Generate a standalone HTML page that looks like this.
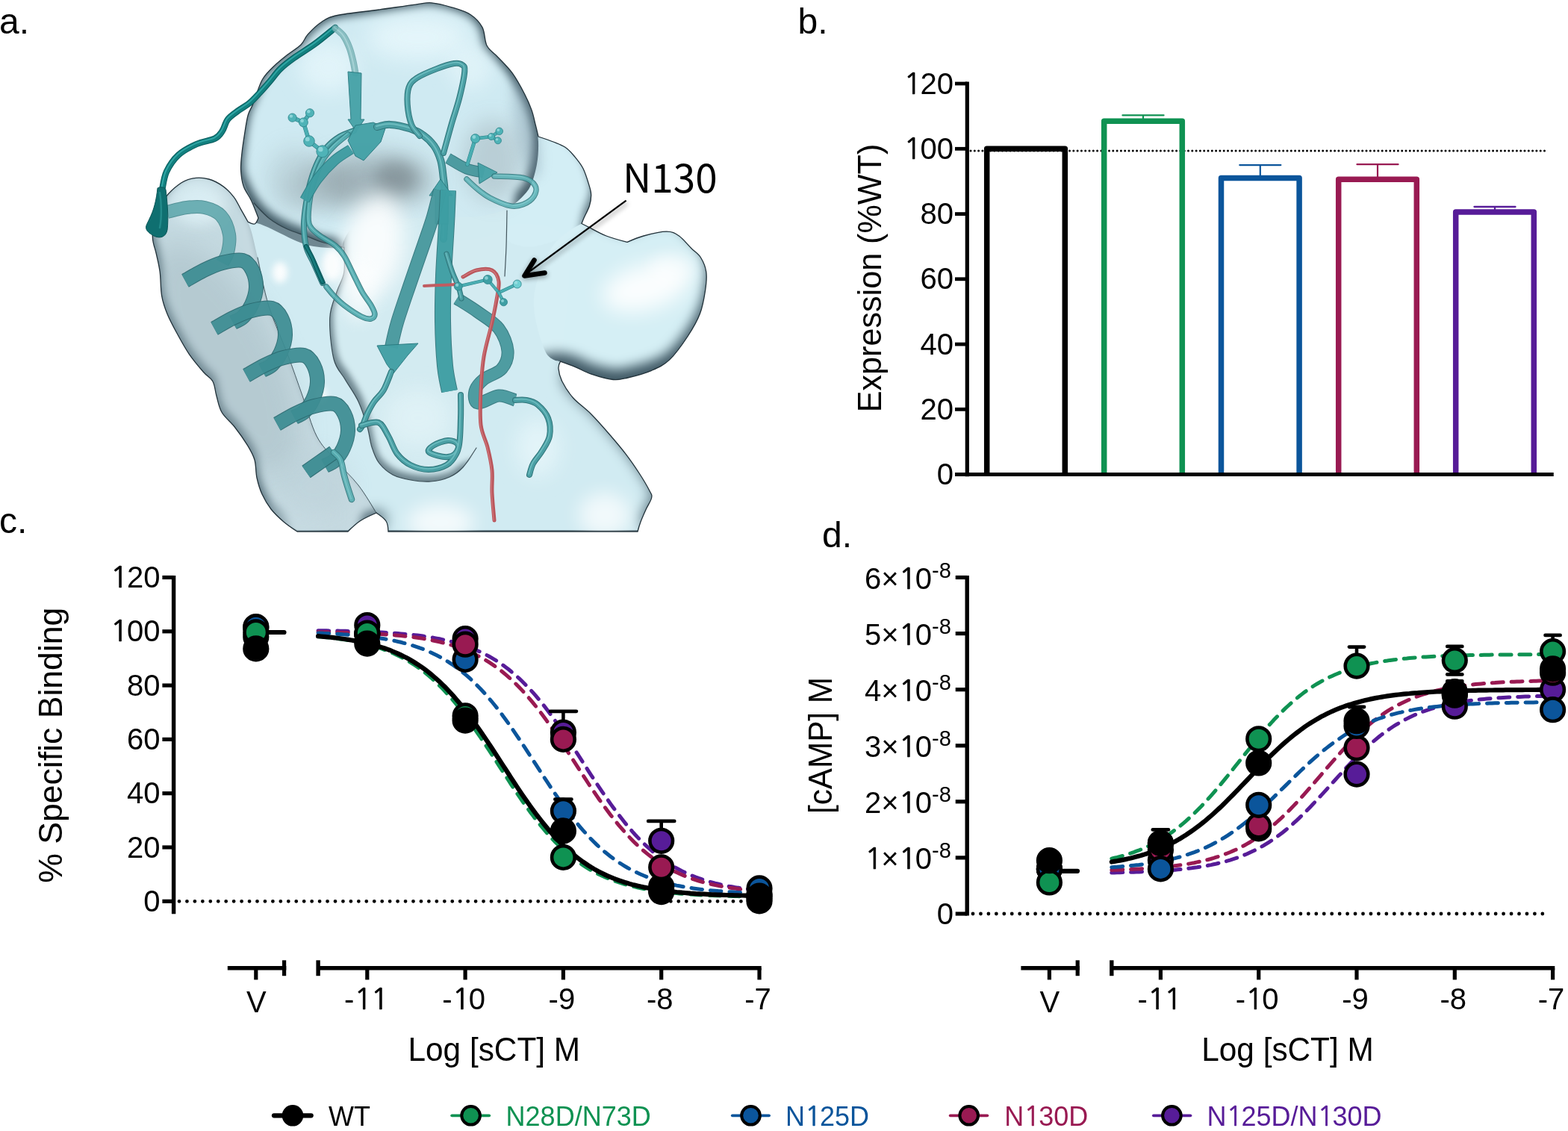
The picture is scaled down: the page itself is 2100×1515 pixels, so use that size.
<!DOCTYPE html>
<html><head><meta charset="utf-8"><title>Figure</title>
<style>
html,body{margin:0;padding:0;background:#fff;}
body{width:2100px;height:1515px;overflow:hidden;position:relative;}
svg{position:absolute;left:0;top:0;display:block;}
text{font-family:'Liberation Sans', Arial, sans-serif;}
</style></head><body>
<svg width="2100" height="1515" viewBox="0 0 2100 1515">
<rect width="2100" height="1515" fill="#fff"/>
<defs>
<clipPath id="silclip"><path d="M431.0,29.2 C437.6,25.0 439.2,23.2 452.0,20.5 C464.8,17.8 490.1,15.4 507.5,13.0 C524.9,10.6 544.6,7.6 556.4,6.1 C568.1,4.6 569.9,3.2 578.0,3.8 C586.1,4.4 596.3,7.2 605.0,9.8 C613.7,12.4 623.2,15.0 630.0,19.5 C636.8,24.0 642.3,29.7 646.0,36.6 C649.7,43.5 648.7,54.5 652.0,61.0 C655.3,67.5 660.3,69.6 666.0,75.7 C671.7,81.8 679.9,89.3 686.0,97.7 C692.1,106.1 698.3,117.7 702.6,126.0 C706.9,134.3 709.6,140.7 712.0,147.4 C714.4,154.1 715.5,160.5 717.0,166.4 C718.5,172.3 721.0,183.0 721.0,183.0 C721.0,183.0 735.0,187.6 741.0,190.0 C747.0,192.4 752.3,194.1 757.0,197.3 C761.7,200.5 765.0,204.2 769.0,209.0 C773.0,213.8 777.6,219.0 781.0,225.8 C784.4,232.6 787.6,243.7 789.4,249.6 C791.2,255.5 791.7,257.0 791.7,261.4 C791.7,265.8 791.0,270.6 789.4,275.7 C787.8,280.8 783.7,288.0 782.0,292.0 C780.3,296.0 779.0,299.5 779.0,299.5 C779.0,299.5 782.5,301.2 788.0,304.0 C793.5,306.8 803.3,312.6 812.0,316.0 C820.7,319.4 840.0,324.4 840.0,324.4 C840.0,324.4 853.2,318.4 862.0,316.0 C870.8,313.6 884.8,310.2 892.7,310.2 C900.6,310.2 903.9,312.2 909.4,316.0 C914.9,319.8 921.1,327.9 926.0,332.7 C930.9,337.5 935.2,339.7 938.5,345.0 C941.8,350.3 944.8,357.1 945.8,364.4 C946.8,371.7 946.0,379.4 944.6,388.8 C943.2,398.2 941.2,410.4 937.3,420.6 C933.4,430.8 928.1,439.8 921.4,450.0 C914.7,460.2 905.1,473.9 897.0,481.6 C888.9,489.3 882.0,492.2 872.6,496.3 C863.2,500.4 849.3,504.0 840.8,506.0 C832.2,508.0 829.4,509.3 821.3,508.5 C813.2,507.7 800.5,504.1 792.0,501.2 C783.5,498.3 776.9,494.2 770.0,491.4 C763.1,488.5 750.5,484.1 750.5,484.1 C750.5,484.1 747.6,489.3 748.0,493.8 C748.4,498.3 749.6,504.5 752.9,511.0 C756.2,517.5 761.1,525.7 767.6,533.0 C774.1,540.3 783.9,546.8 792.0,555.0 C800.1,563.2 808.7,573.1 816.4,582.0 C824.1,590.9 831.9,600.1 838.4,608.6 C844.9,617.1 850.2,624.9 855.5,633.0 C860.8,641.1 867.1,651.8 870.0,657.5 C872.9,663.2 873.4,662.9 872.6,667.0 C871.8,671.1 867.7,676.7 865.3,682.0 C862.9,687.3 859.9,694.0 858.0,699.0 C856.1,704.0 854.0,712.0 854.0,712.0 C854.0,712.0 520.0,712.0 520.0,712.0 C520.0,712.0 519.7,702.2 517.0,698.0 C514.3,693.8 504.0,687.0 504.0,687.0 C504.0,687.0 488.3,693.8 482.0,698.0 C475.7,702.2 466.0,712.0 466.0,712.0 C466.0,712.0 398.0,712.0 398.0,712.0 C398.0,712.0 385.8,704.0 380.0,699.0 C374.2,694.0 367.8,688.2 363.0,682.0 C358.2,675.8 354.2,669.0 351.0,662.0 C347.8,655.0 345.7,647.7 344.0,640.0 C342.3,632.3 343.1,623.3 341.0,616.0 C338.9,608.7 335.8,603.7 331.4,596.4 C326.9,589.1 320.0,579.3 314.3,572.0 C308.6,564.7 301.2,559.4 297.2,552.5 C293.1,545.6 292.0,537.4 290.0,530.5 C288.0,523.6 287.9,516.3 285.0,511.0 C282.1,505.7 278.1,504.8 272.8,498.7 C267.5,492.6 259.4,483.2 253.3,474.3 C247.2,465.4 241.1,453.9 236.2,445.0 C231.3,436.1 227.3,428.7 224.0,420.6 C220.7,412.5 218.2,405.6 216.6,396.2 C215.0,386.8 215.4,373.8 214.2,364.4 C213.0,355.0 210.9,347.4 209.3,340.0 C207.7,332.6 205.0,327.2 204.5,320.0 C204.0,312.8 203.4,306.0 206.1,297.0 C208.8,288.0 214.8,274.5 220.4,266.2 C226.0,257.9 233.1,251.8 239.4,247.2 C245.7,242.6 251.7,240.1 258.4,238.9 C265.1,237.7 273.1,238.2 279.8,240.0 C286.5,241.8 293.2,245.6 298.8,249.6 C304.4,253.6 309.1,258.7 313.1,263.8 C317.1,268.9 319.5,274.9 322.6,280.4 C325.8,285.9 332.0,297.0 332.0,297.0 C332.0,297.0 338.7,300.8 341.0,300.0 C343.3,299.2 346.0,292.0 346.0,292.0 C346.0,292.0 339.9,275.8 336.6,268.7 C333.3,261.6 328.5,256.4 326.2,249.6 C323.9,242.8 323.0,235.3 322.6,228.2 C322.2,221.1 323.0,214.7 323.8,206.8 C324.6,198.9 326.0,189.3 327.4,180.6 C328.8,171.9 330.2,161.3 332.1,154.5 C334.0,147.7 336.4,145.5 338.5,140.0 C340.6,134.5 342.7,127.5 345.0,121.7 C347.3,115.9 348.8,110.4 352.3,105.0 C355.8,99.6 360.8,94.5 366.2,89.3 C371.6,84.1 378.5,78.5 384.7,73.6 C390.9,68.7 398.6,64.3 403.2,59.7 C407.8,55.1 407.8,51.0 412.4,45.9 C417.0,40.8 424.4,33.4 431.0,29.2Z"/></clipPath>
<filter id="bl2" filterUnits="userSpaceOnUse" x="-50" y="-50" width="1100" height="820"><feGaussianBlur stdDeviation="2"/></filter>
<filter id="bl3" filterUnits="userSpaceOnUse" x="-50" y="-50" width="1100" height="820"><feGaussianBlur stdDeviation="3"/></filter>
<filter id="bl4" filterUnits="userSpaceOnUse" x="-50" y="-50" width="1100" height="820"><feGaussianBlur stdDeviation="4"/></filter>
<filter id="bl5" filterUnits="userSpaceOnUse" x="-50" y="-50" width="1100" height="820"><feGaussianBlur stdDeviation="5"/></filter>
<filter id="bl6" filterUnits="userSpaceOnUse" x="-50" y="-50" width="1100" height="820"><feGaussianBlur stdDeviation="6"/></filter>
<filter id="bl7" filterUnits="userSpaceOnUse" x="-50" y="-50" width="1100" height="820"><feGaussianBlur stdDeviation="7"/></filter>
<filter id="bl8" filterUnits="userSpaceOnUse" x="-50" y="-50" width="1100" height="820"><feGaussianBlur stdDeviation="8"/></filter>
<filter id="bl9" filterUnits="userSpaceOnUse" x="-50" y="-50" width="1100" height="820"><feGaussianBlur stdDeviation="9"/></filter>
<filter id="bl10" filterUnits="userSpaceOnUse" x="-50" y="-50" width="1100" height="820"><feGaussianBlur stdDeviation="10"/></filter>
<filter id="bl12" filterUnits="userSpaceOnUse" x="-50" y="-50" width="1100" height="820"><feGaussianBlur stdDeviation="12"/></filter>
<filter id="bl14" filterUnits="userSpaceOnUse" x="-50" y="-50" width="1100" height="820"><feGaussianBlur stdDeviation="14"/></filter>
<filter id="bl16" filterUnits="userSpaceOnUse" x="-50" y="-50" width="1100" height="820"><feGaussianBlur stdDeviation="16"/></filter>
<filter id="bl18" filterUnits="userSpaceOnUse" x="-50" y="-50" width="1100" height="820"><feGaussianBlur stdDeviation="18"/></filter>
<filter id="bl20" filterUnits="userSpaceOnUse" x="-50" y="-50" width="1100" height="820"><feGaussianBlur stdDeviation="20"/></filter>
<filter id="bl24" filterUnits="userSpaceOnUse" x="-50" y="-50" width="1100" height="820"><feGaussianBlur stdDeviation="24"/></filter>
<filter id="bl30" filterUnits="userSpaceOnUse" x="-50" y="-50" width="1100" height="820"><feGaussianBlur stdDeviation="30"/></filter>
</defs>
<g id="protein">
<path d="M431.0,29.2 C437.6,25.0 439.2,23.2 452.0,20.5 C464.8,17.8 490.1,15.4 507.5,13.0 C524.9,10.6 544.6,7.6 556.4,6.1 C568.1,4.6 569.9,3.2 578.0,3.8 C586.1,4.4 596.3,7.2 605.0,9.8 C613.7,12.4 623.2,15.0 630.0,19.5 C636.8,24.0 642.3,29.7 646.0,36.6 C649.7,43.5 648.7,54.5 652.0,61.0 C655.3,67.5 660.3,69.6 666.0,75.7 C671.7,81.8 679.9,89.3 686.0,97.7 C692.1,106.1 698.3,117.7 702.6,126.0 C706.9,134.3 709.6,140.7 712.0,147.4 C714.4,154.1 715.5,160.5 717.0,166.4 C718.5,172.3 721.0,183.0 721.0,183.0 C721.0,183.0 735.0,187.6 741.0,190.0 C747.0,192.4 752.3,194.1 757.0,197.3 C761.7,200.5 765.0,204.2 769.0,209.0 C773.0,213.8 777.6,219.0 781.0,225.8 C784.4,232.6 787.6,243.7 789.4,249.6 C791.2,255.5 791.7,257.0 791.7,261.4 C791.7,265.8 791.0,270.6 789.4,275.7 C787.8,280.8 783.7,288.0 782.0,292.0 C780.3,296.0 779.0,299.5 779.0,299.5 C779.0,299.5 782.5,301.2 788.0,304.0 C793.5,306.8 803.3,312.6 812.0,316.0 C820.7,319.4 840.0,324.4 840.0,324.4 C840.0,324.4 853.2,318.4 862.0,316.0 C870.8,313.6 884.8,310.2 892.7,310.2 C900.6,310.2 903.9,312.2 909.4,316.0 C914.9,319.8 921.1,327.9 926.0,332.7 C930.9,337.5 935.2,339.7 938.5,345.0 C941.8,350.3 944.8,357.1 945.8,364.4 C946.8,371.7 946.0,379.4 944.6,388.8 C943.2,398.2 941.2,410.4 937.3,420.6 C933.4,430.8 928.1,439.8 921.4,450.0 C914.7,460.2 905.1,473.9 897.0,481.6 C888.9,489.3 882.0,492.2 872.6,496.3 C863.2,500.4 849.3,504.0 840.8,506.0 C832.2,508.0 829.4,509.3 821.3,508.5 C813.2,507.7 800.5,504.1 792.0,501.2 C783.5,498.3 776.9,494.2 770.0,491.4 C763.1,488.5 750.5,484.1 750.5,484.1 C750.5,484.1 747.6,489.3 748.0,493.8 C748.4,498.3 749.6,504.5 752.9,511.0 C756.2,517.5 761.1,525.7 767.6,533.0 C774.1,540.3 783.9,546.8 792.0,555.0 C800.1,563.2 808.7,573.1 816.4,582.0 C824.1,590.9 831.9,600.1 838.4,608.6 C844.9,617.1 850.2,624.9 855.5,633.0 C860.8,641.1 867.1,651.8 870.0,657.5 C872.9,663.2 873.4,662.9 872.6,667.0 C871.8,671.1 867.7,676.7 865.3,682.0 C862.9,687.3 859.9,694.0 858.0,699.0 C856.1,704.0 854.0,712.0 854.0,712.0 C854.0,712.0 520.0,712.0 520.0,712.0 C520.0,712.0 519.7,702.2 517.0,698.0 C514.3,693.8 504.0,687.0 504.0,687.0 C504.0,687.0 488.3,693.8 482.0,698.0 C475.7,702.2 466.0,712.0 466.0,712.0 C466.0,712.0 398.0,712.0 398.0,712.0 C398.0,712.0 385.8,704.0 380.0,699.0 C374.2,694.0 367.8,688.2 363.0,682.0 C358.2,675.8 354.2,669.0 351.0,662.0 C347.8,655.0 345.7,647.7 344.0,640.0 C342.3,632.3 343.1,623.3 341.0,616.0 C338.9,608.7 335.8,603.7 331.4,596.4 C326.9,589.1 320.0,579.3 314.3,572.0 C308.6,564.7 301.2,559.4 297.2,552.5 C293.1,545.6 292.0,537.4 290.0,530.5 C288.0,523.6 287.9,516.3 285.0,511.0 C282.1,505.7 278.1,504.8 272.8,498.7 C267.5,492.6 259.4,483.2 253.3,474.3 C247.2,465.4 241.1,453.9 236.2,445.0 C231.3,436.1 227.3,428.7 224.0,420.6 C220.7,412.5 218.2,405.6 216.6,396.2 C215.0,386.8 215.4,373.8 214.2,364.4 C213.0,355.0 210.9,347.4 209.3,340.0 C207.7,332.6 205.0,327.2 204.5,320.0 C204.0,312.8 203.4,306.0 206.1,297.0 C208.8,288.0 214.8,274.5 220.4,266.2 C226.0,257.9 233.1,251.8 239.4,247.2 C245.7,242.6 251.7,240.1 258.4,238.9 C265.1,237.7 273.1,238.2 279.8,240.0 C286.5,241.8 293.2,245.6 298.8,249.6 C304.4,253.6 309.1,258.7 313.1,263.8 C317.1,268.9 319.5,274.9 322.6,280.4 C325.8,285.9 332.0,297.0 332.0,297.0 C332.0,297.0 338.7,300.8 341.0,300.0 C343.3,299.2 346.0,292.0 346.0,292.0 C346.0,292.0 339.9,275.8 336.6,268.7 C333.3,261.6 328.5,256.4 326.2,249.6 C323.9,242.8 323.0,235.3 322.6,228.2 C322.2,221.1 323.0,214.7 323.8,206.8 C324.6,198.9 326.0,189.3 327.4,180.6 C328.8,171.9 330.2,161.3 332.1,154.5 C334.0,147.7 336.4,145.5 338.5,140.0 C340.6,134.5 342.7,127.5 345.0,121.7 C347.3,115.9 348.8,110.4 352.3,105.0 C355.8,99.6 360.8,94.5 366.2,89.3 C371.6,84.1 378.5,78.5 384.7,73.6 C390.9,68.7 398.6,64.3 403.2,59.7 C407.8,55.1 407.8,51.0 412.4,45.9 C417.0,40.8 424.4,33.4 431.0,29.2Z" fill="#6f8791"/>
<g clip-path="url(#silclip)">
<clipPath id="c_lr"><path d="M330.0,300.0 C342.5,288.3 388.3,325.0 420.0,330.0 C451.7,335.0 483.3,331.7 520.0,330.0 C556.7,328.3 610.0,325.0 640.0,320.0 C670.0,315.0 680.0,298.3 700.0,300.0 C720.0,301.7 751.6,299.3 760.0,330.0 C768.4,360.7 750.5,484.1 750.5,484.1 C750.5,484.1 747.6,489.3 748.0,493.8 C748.4,498.3 749.6,504.5 752.9,511.0 C756.2,517.5 761.1,525.7 767.6,533.0 C774.1,540.3 783.9,546.8 792.0,555.0 C800.1,563.2 808.7,573.1 816.4,582.0 C824.1,590.9 831.9,600.1 838.4,608.6 C844.9,617.1 850.2,624.9 855.5,633.0 C860.8,641.1 867.1,651.8 870.0,657.5 C872.9,663.2 873.4,662.9 872.6,667.0 C871.8,671.1 867.7,676.7 865.3,682.0 C862.9,687.3 859.9,694.3 858.0,699.0 C856.1,703.7 854.0,710.0 854.0,710.0 C854.0,710.0 520.0,710.0 520.0,710.0 C520.0,710.0 519.7,701.8 517.0,698.0 C514.3,694.2 504.0,687.0 504.0,687.0 C504.0,687.0 488.3,694.2 482.0,698.0 C475.7,701.8 466.0,710.0 466.0,710.0 C466.0,710.0 420.0,710.0 420.0,710.0 C420.0,710.0 412.5,651.7 400.0,600.0 C387.5,548.3 356.7,450.0 345.0,400.0 C333.3,350.0 317.5,311.7 330.0,300.0Z"/></clipPath>
<g clip-path="url(#c_lr)"><g opacity="0.995"><rect x="150" y="0" width="850" height="712" fill="#5a727d"/><path d="M300.0,280.0 C320.0,263.3 353.3,301.7 420.0,300.0 C486.7,298.3 638.3,266.7 700.0,270.0 C761.7,273.3 780.0,284.3 790.0,320.0 C800.0,355.7 766.2,452.2 760.0,484.0 C753.8,515.8 751.6,502.8 752.9,511.0 C754.2,519.2 761.1,525.7 767.6,533.0 C774.1,540.3 783.9,546.8 792.0,555.0 C800.1,563.2 808.7,573.1 816.4,582.0 C824.1,590.9 831.9,600.1 838.4,608.6 C844.9,617.1 850.2,624.9 855.5,633.0 C860.8,641.1 867.1,651.8 870.0,657.5 C872.9,663.2 873.4,662.9 872.6,667.0 C871.8,671.1 867.7,676.7 865.3,682.0 C862.9,687.3 859.9,686.0 858.0,699.0 C856.1,712.0 910.3,749.8 854.0,760.0 C797.7,770.2 576.2,770.3 520.0,760.0 C463.8,749.7 519.7,710.2 517.0,698.0 C514.3,685.8 509.8,687.0 504.0,687.0 C498.2,687.0 488.3,685.8 482.0,698.0 C475.7,710.2 483.0,749.7 466.0,760.0 C449.0,770.3 402.7,786.7 380.0,760.0 C357.3,733.3 343.3,660.0 330.0,600.0 C316.7,540.0 305.0,453.3 300.0,400.0 C295.0,346.7 280.0,296.7 300.0,280.0Z" fill="#d2ebf2" transform="translate(0,-3)" filter="url(#bl9)"/></g></g>
<clipPath id="c_ub"><path d="M680.0,180.0 C688.5,160.5 721.0,183.0 721.0,183.0 C721.0,183.0 735.0,187.6 741.0,190.0 C747.0,192.4 752.3,194.1 757.0,197.3 C761.7,200.5 765.0,204.2 769.0,209.0 C773.0,213.8 777.6,219.0 781.0,225.8 C784.4,232.6 787.6,243.7 789.4,249.6 C791.2,255.5 791.7,257.0 791.7,261.4 C791.7,265.8 791.0,270.6 789.4,275.7 C787.8,280.8 783.7,288.0 782.0,292.0 C780.3,296.0 779.0,299.5 779.0,299.5 C779.0,299.5 763.2,314.9 750.0,320.0 C736.8,325.1 713.3,333.3 700.0,330.0 C686.7,326.7 673.3,325.0 670.0,300.0 C666.7,275.0 671.5,199.5 680.0,180.0Z"/></clipPath>
<g clip-path="url(#c_ub)"><g opacity="0.995"><rect x="150" y="0" width="850" height="712" fill="#5a717c"/><path d="M670.0,170.0 C683.5,149.3 709.2,173.8 721.0,176.0 C732.8,178.2 735.0,180.7 741.0,183.0 C747.0,185.3 752.3,186.8 757.0,190.0 C761.7,193.2 765.0,197.2 769.0,202.0 C773.0,206.8 777.7,212.2 781.0,219.0 C784.3,225.8 787.3,237.0 789.0,243.0 C790.7,249.0 791.0,250.7 791.0,255.0 C791.0,259.3 790.5,263.8 789.0,269.0 C787.5,274.2 783.7,280.8 782.0,286.0 C780.3,291.2 782.7,284.3 779.0,300.0 C775.3,315.7 773.2,363.3 760.0,380.0 C746.8,396.7 720.0,413.3 700.0,400.0 C680.0,386.7 645.0,338.3 640.0,300.0 C635.0,261.7 656.5,190.7 670.0,170.0Z" fill="#d4eef5" transform="translate(0,-4)" filter="url(#bl6)"/></g></g>
<clipPath id="c_rl"><path d="M779.0,299.5 C779.0,299.5 782.5,301.2 788.0,304.0 C793.5,306.8 803.3,312.6 812.0,316.0 C820.7,319.4 840.0,324.4 840.0,324.4 C840.0,324.4 853.2,318.4 862.0,316.0 C870.8,313.6 884.8,310.2 892.7,310.2 C900.6,310.2 903.9,312.2 909.4,316.0 C914.9,319.8 921.1,327.9 926.0,332.7 C930.9,337.5 935.2,339.7 938.5,345.0 C941.8,350.3 944.8,357.1 945.8,364.4 C946.8,371.7 946.0,379.4 944.6,388.8 C943.2,398.2 941.2,410.4 937.3,420.6 C933.4,430.8 928.1,439.8 921.4,450.0 C914.7,460.2 905.1,473.9 897.0,481.6 C888.9,489.3 882.0,492.2 872.6,496.3 C863.2,500.4 849.3,504.0 840.8,506.0 C832.2,508.0 829.4,509.3 821.3,508.5 C813.2,507.7 800.5,504.1 792.0,501.2 C783.5,498.3 776.9,494.2 770.0,491.4 C763.1,488.5 750.5,484.1 750.5,484.1 C750.5,484.1 735.9,484.0 730.0,470.0 C724.1,456.0 713.3,423.3 715.0,400.0 C716.7,376.7 729.3,346.8 740.0,330.0 C750.7,313.2 779.0,299.5 779.0,299.5Z"/></clipPath>
<g clip-path="url(#c_rl)"><g opacity="0.995"><rect x="150" y="0" width="850" height="712" fill="#425a66"/><path d="M779.0,290.0 C797.0,291.3 782.5,294.7 788.0,298.0 C793.5,301.3 803.3,306.7 812.0,310.0 C820.7,313.3 831.7,318.0 840.0,318.0 C848.3,318.0 853.2,312.3 862.0,310.0 C870.8,307.7 884.8,304.0 892.7,304.0 C900.6,304.0 903.9,306.3 909.4,310.0 C914.9,313.7 921.1,321.0 926.0,326.0 C930.9,331.0 935.2,334.3 938.5,340.0 C941.8,345.7 944.8,352.7 945.8,360.0 C946.8,367.3 946.0,375.0 944.6,384.0 C943.2,393.0 941.2,404.0 937.3,414.0 C933.4,424.0 928.1,434.0 921.4,444.0 C914.7,454.0 905.1,466.7 897.0,474.0 C888.9,481.3 882.0,484.2 872.6,488.0 C863.2,491.8 849.3,495.2 840.8,497.0 C832.2,498.8 829.4,499.8 821.3,499.0 C813.2,498.2 800.5,494.8 792.0,492.0 C783.5,489.2 778.7,484.3 770.0,482.0 C761.3,479.7 758.3,476.7 740.0,478.0 C721.7,479.3 676.7,503.0 660.0,490.0 C643.3,477.0 636.7,433.3 640.0,400.0 C643.3,366.7 656.8,308.3 680.0,290.0 C703.2,271.7 761.0,288.7 779.0,290.0Z" fill="#d6eff5" transform="translate(0,-5)" filter="url(#bl8)"/></g></g>
<clipPath id="c_hl"><path d="M239.4,247.2 C245.7,242.6 251.7,240.1 258.4,238.9 C265.1,237.7 273.1,238.2 279.8,240.0 C286.5,241.8 293.2,245.6 298.8,249.6 C304.4,253.6 309.1,258.7 313.1,263.8 C317.1,268.9 319.0,273.5 322.6,280.4 C326.2,287.3 331.3,294.2 335.0,305.0 C338.7,315.8 340.8,327.5 345.0,345.0 C349.2,362.5 353.3,388.5 360.0,410.0 C366.7,431.5 377.5,454.0 385.0,474.0 C392.5,494.0 398.5,511.7 405.0,530.0 C411.5,548.3 416.7,569.7 424.0,584.0 C431.3,598.3 439.7,605.0 449.0,616.0 C458.3,627.0 470.8,638.2 480.0,650.0 C489.2,661.8 504.0,687.0 504.0,687.0 C504.0,687.0 488.3,694.2 482.0,698.0 C475.7,701.8 466.0,710.0 466.0,710.0 C466.0,710.0 398.0,710.0 398.0,710.0 C398.0,710.0 385.8,703.7 380.0,699.0 C374.2,694.3 367.8,688.2 363.0,682.0 C358.2,675.8 354.2,669.0 351.0,662.0 C347.8,655.0 345.7,647.7 344.0,640.0 C342.3,632.3 343.1,623.3 341.0,616.0 C338.9,608.7 335.8,603.7 331.4,596.4 C326.9,589.1 320.0,579.3 314.3,572.0 C308.6,564.7 301.2,559.4 297.2,552.5 C293.1,545.6 292.0,537.4 290.0,530.5 C288.0,523.6 287.9,516.3 285.0,511.0 C282.1,505.7 278.1,504.8 272.8,498.7 C267.5,492.6 259.4,483.2 253.3,474.3 C247.2,465.4 241.1,453.9 236.2,445.0 C231.3,436.1 227.3,428.7 224.0,420.6 C220.7,412.5 218.2,405.6 216.6,396.2 C215.0,386.8 215.4,373.8 214.2,364.4 C213.0,355.0 210.9,347.4 209.3,340.0 C207.7,332.6 205.0,327.2 204.5,320.0 C204.0,312.8 203.4,306.0 206.1,297.0 C208.8,288.0 214.8,274.5 220.4,266.2 C226.0,257.9 233.1,251.8 239.4,247.2Z"/></clipPath>
<g clip-path="url(#c_hl)"><g opacity="0.995"><rect x="150" y="0" width="850" height="712" fill="#5f7782"/><path d="M242.4,243.2 C248.7,238.6 254.7,236.1 261.4,234.9 C268.1,233.7 276.1,234.2 282.8,236.0 C289.5,237.8 296.2,241.6 301.8,245.6 C307.4,249.6 312.1,254.7 316.1,259.8 C320.1,264.9 322.0,269.5 325.6,276.4 C329.2,283.3 334.3,290.2 338.0,301.0 C341.7,311.8 343.8,323.5 348.0,341.0 C352.2,358.5 356.3,384.5 363.0,406.0 C369.7,427.5 380.5,450.0 388.0,470.0 C395.5,490.0 401.5,507.7 408.0,526.0 C414.5,544.3 419.7,565.7 427.0,580.0 C434.3,594.3 442.7,601.0 452.0,612.0 C461.3,623.0 473.8,634.2 483.0,646.0 C492.2,657.8 506.7,675.0 507.0,683.0 C507.3,691.0 491.3,681.2 485.0,694.0 C478.7,706.8 483.0,749.0 469.0,760.0 C455.0,771.0 415.3,770.8 401.0,760.0 C386.7,749.2 388.8,708.7 383.0,695.0 C377.2,681.3 370.8,684.2 366.0,678.0 C361.2,671.8 357.2,665.0 354.0,658.0 C350.8,651.0 348.7,643.7 347.0,636.0 C345.3,628.3 346.1,619.3 344.0,612.0 C341.9,604.7 338.8,599.7 334.4,592.4 C329.9,585.1 323.0,575.3 317.3,568.0 C311.6,560.7 304.2,555.4 300.2,548.5 C296.1,541.6 295.0,533.4 293.0,526.5 C291.0,519.6 290.9,512.3 288.0,507.0 C285.1,501.7 281.1,500.8 275.8,494.7 C270.5,488.6 262.4,479.2 256.3,470.3 C250.2,461.4 244.1,449.9 239.2,441.0 C234.3,432.1 230.3,424.7 227.0,416.6 C223.7,408.5 221.2,401.6 219.6,392.2 C218.0,382.8 218.4,369.8 217.2,360.4 C216.0,351.0 213.9,343.4 212.3,336.0 C210.7,328.6 208.0,323.2 207.5,316.0 C207.0,308.8 206.4,302.0 209.1,293.0 C211.8,284.0 217.8,270.5 223.4,262.2 C229.0,253.9 236.1,247.8 242.4,243.2Z" fill="#c6dae1" transform="translate(0,-3)" filter="url(#bl6)"/></g></g>
<path d="M345.0,345.0 C347.5,355.8 353.3,388.5 360.0,410.0 C366.7,431.5 377.5,454.0 385.0,474.0 C392.5,494.0 398.5,511.7 405.0,530.0 C411.5,548.3 416.7,569.7 424.0,584.0 C431.3,598.3 439.7,605.0 449.0,616.0 C458.3,627.0 470.8,638.2 480.0,650.0 C489.2,661.8 500.0,680.8 504.0,687.0" fill="none" stroke="#2a3c44" stroke-width="1.0" stroke-opacity="0.85" stroke-linecap="round"/>
<clipPath id="c_cl"><path d="M460.7,331.0 C462.2,318.5 456.8,300.5 470.0,290.0 C483.2,279.5 511.7,271.7 540.0,268.0 C568.3,264.3 616.8,266.0 640.0,268.0 C663.2,270.0 672.7,269.7 679.0,280.0 C685.3,290.3 678.5,315.0 678.0,330.0 C677.5,345.0 677.7,355.0 676.0,370.0 C674.3,385.0 671.5,401.7 668.0,420.0 C664.5,438.3 658.8,458.3 655.0,480.0 C651.2,501.7 647.8,530.0 645.0,550.0 C642.2,570.0 642.2,587.3 638.0,600.0 C633.8,612.7 626.0,619.5 620.0,626.0 C614.0,632.5 609.2,635.8 602.0,639.0 C594.8,642.2 585.7,644.3 577.0,645.0 C568.3,645.7 558.5,644.5 550.0,643.0 C541.5,641.5 533.1,639.8 526.0,636.0 C518.9,632.2 512.2,626.2 507.5,620.0 C502.8,613.8 500.6,607.0 498.0,599.0 C495.4,591.0 495.0,582.2 492.0,572.0 C489.0,561.8 485.0,548.7 480.0,538.0 C475.0,527.3 467.5,517.5 462.0,508.0 C456.5,498.5 450.4,494.7 447.0,481.0 C443.6,467.3 441.0,441.0 441.7,426.0 C442.4,411.0 447.8,401.2 451.0,391.0 C454.2,380.8 459.1,375.0 460.7,365.0 C462.3,355.0 459.1,343.5 460.7,331.0Z"/></clipPath>
<g clip-path="url(#c_cl)"><g opacity="0.995"><rect x="150" y="0" width="850" height="712" fill="#6d858e"/><path d="M462.0,300.0 C463.0,281.3 457.0,261.7 470.0,250.0 C483.0,238.3 511.7,233.3 540.0,230.0 C568.3,226.7 613.3,226.7 640.0,230.0 C666.7,233.3 686.7,233.3 700.0,250.0 C713.3,266.7 716.7,310.0 720.0,330.0 C723.3,350.0 720.0,355.0 720.0,370.0 C720.0,385.0 721.7,401.7 720.0,420.0 C718.3,438.3 713.3,458.3 710.0,480.0 C706.7,501.7 705.0,530.0 700.0,550.0 C695.0,570.0 693.0,588.0 680.0,600.0 C667.0,612.0 634.8,616.3 622.0,622.0 C609.2,627.7 610.3,631.2 603.0,634.0 C595.7,636.8 586.7,638.5 578.0,639.0 C569.3,639.5 559.3,638.5 551.0,637.0 C542.7,635.5 534.8,633.7 528.0,630.0 C521.2,626.3 514.3,620.8 510.0,615.0 C505.7,609.2 504.3,602.8 502.0,595.0 C499.7,587.2 498.8,578.2 496.0,568.0 C493.2,557.8 489.7,544.7 485.0,534.0 C480.3,523.3 473.5,513.5 468.0,504.0 C462.5,494.5 455.7,490.3 452.0,477.0 C448.3,463.7 445.5,438.5 446.0,424.0 C446.5,409.5 452.0,400.3 455.0,390.0 C458.0,379.7 462.8,377.0 464.0,362.0 C465.2,347.0 461.0,318.7 462.0,300.0Z" fill="#d3ebf1" transform="translate(0,-2)" filter="url(#bl4)"/></g></g>
<path d="M460.7,331.0 C460.7,336.7 462.3,355.0 460.7,365.0 C459.1,375.0 454.2,380.8 451.0,391.0 C447.8,401.2 442.4,411.0 441.7,426.0 C441.0,441.0 443.6,467.3 447.0,481.0 C450.4,494.7 456.5,498.5 462.0,508.0 C467.5,517.5 475.0,527.3 480.0,538.0 C485.0,548.7 489.0,561.8 492.0,572.0 C495.0,582.2 495.4,591.0 498.0,599.0 C500.6,607.0 502.8,613.8 507.5,620.0 C512.2,626.2 518.9,632.2 526.0,636.0 C533.1,639.8 541.5,641.5 550.0,643.0 C558.5,644.5 568.3,645.7 577.0,645.0 C585.7,644.3 594.8,642.2 602.0,639.0 C609.2,635.8 614.0,632.5 620.0,626.0 C626.0,619.5 635.0,604.3 638.0,600.0" fill="none" stroke="#2a3c44" stroke-width="1.2" stroke-opacity="0.85" stroke-linecap="round"/>
<path d="M679.0,282.0 C678.8,290.0 678.5,315.3 678.0,330.0 C677.5,344.7 676.3,363.3 676.0,370.0" fill="none" stroke="#2a3c44" stroke-width="1.2" stroke-opacity="0.85" stroke-linecap="round"/>
<clipPath id="c_mb"><path d="M327.0,244.0 C324.1,236.7 323.1,234.4 322.6,228.2 C322.1,222.0 323.0,214.7 323.8,206.8 C324.6,198.9 326.0,189.3 327.4,180.6 C328.8,171.9 330.2,161.3 332.1,154.5 C334.0,147.7 336.4,145.5 338.5,140.0 C340.6,134.5 342.7,127.5 345.0,121.7 C347.3,115.9 348.8,110.4 352.3,105.0 C355.8,99.6 360.8,94.5 366.2,89.3 C371.6,84.1 378.5,78.5 384.7,73.6 C390.9,68.7 398.6,64.3 403.2,59.7 C407.8,55.1 407.8,51.0 412.4,45.9 C417.0,40.8 424.4,33.4 431.0,29.2 C437.6,25.0 439.2,23.2 452.0,20.5 C464.8,17.8 490.1,15.4 507.5,13.0 C524.9,10.6 544.6,7.6 556.4,6.1 C568.1,4.6 569.9,3.2 578.0,3.8 C586.1,4.4 596.3,7.2 605.0,9.8 C613.7,12.4 623.2,15.0 630.0,19.5 C636.8,24.0 642.3,29.7 646.0,36.6 C649.7,43.5 648.7,54.5 652.0,61.0 C655.3,67.5 660.3,69.6 666.0,75.7 C671.7,81.8 679.9,89.3 686.0,97.7 C692.1,106.1 698.3,117.7 702.6,126.0 C706.9,134.3 709.6,140.7 712.0,147.4 C714.4,154.1 715.5,159.3 717.0,166.4 C718.5,173.5 720.7,181.1 721.0,190.0 C721.3,198.9 720.8,210.0 719.0,220.0 C717.2,230.0 714.0,242.0 710.0,250.0 C706.0,258.0 700.2,263.0 695.0,268.0 C689.8,273.0 679.0,280.0 679.0,280.0 C679.0,280.0 659.8,288.0 640.0,290.0 C620.2,292.0 586.7,290.3 560.0,292.0 C533.3,293.7 497.0,293.5 480.0,300.0 C463.0,306.5 458.0,331.0 458.0,331.0 C458.0,331.0 438.0,326.5 430.0,324.0 C422.0,321.5 417.5,318.8 410.0,316.0 C402.5,313.2 393.2,310.8 385.0,307.0 C376.8,303.2 368.5,298.8 361.0,293.0 C353.5,287.2 345.7,280.2 340.0,272.0 C334.3,263.8 329.9,251.3 327.0,244.0Z"/></clipPath>
<g clip-path="url(#c_mb)"><g opacity="0.995"><rect x="150" y="0" width="850" height="712" fill="#465e69"/><path d="M332.0,244.0 C329.0,237.3 327.7,234.2 327.0,228.0 C326.3,221.8 327.3,214.8 328.0,207.0 C328.7,199.2 329.7,189.7 331.0,181.0 C332.3,172.3 334.2,161.7 336.0,155.0 C337.8,148.3 339.8,146.2 342.0,141.0 C344.2,135.8 346.7,129.5 349.0,124.0 C351.3,118.5 352.7,113.0 356.0,108.0 C359.3,103.0 363.7,98.8 369.0,94.0 C374.3,89.2 381.8,83.8 388.0,79.0 C394.2,74.2 401.3,69.7 406.0,65.0 C410.7,60.3 411.3,56.0 416.0,51.0 C420.7,46.0 427.5,39.0 434.0,35.0 C440.5,31.0 442.7,29.5 455.0,27.0 C467.3,24.5 491.2,22.3 508.0,20.0 C524.8,17.7 544.3,14.5 556.0,13.0 C567.7,11.5 570.2,10.5 578.0,11.0 C585.8,11.5 595.0,13.7 603.0,16.0 C611.0,18.3 619.7,20.8 626.0,25.0 C632.3,29.2 637.5,34.5 641.0,41.0 C644.5,47.5 643.7,57.5 647.0,64.0 C650.3,70.5 655.5,73.7 661.0,80.0 C666.5,86.3 674.2,93.8 680.0,102.0 C685.8,110.2 691.8,121.0 696.0,129.0 C700.2,137.0 702.7,143.5 705.0,150.0 C707.3,156.5 708.7,161.3 710.0,168.0 C711.3,174.7 712.8,181.3 713.0,190.0 C713.2,198.7 712.8,210.3 711.0,220.0 C709.2,229.7 705.5,240.5 702.0,248.0 C698.5,255.5 693.8,251.3 690.0,265.0 C686.2,278.7 687.3,310.8 679.0,330.0 C670.7,349.2 659.8,371.7 640.0,380.0 C620.2,388.3 586.7,380.0 560.0,380.0 C533.3,380.0 497.0,388.7 480.0,380.0 C463.0,371.3 466.3,338.3 458.0,328.0 C449.7,317.7 438.0,321.0 430.0,318.0 C422.0,315.0 417.5,313.0 410.0,310.0 C402.5,307.0 392.8,303.8 385.0,300.0 C377.2,296.2 369.7,292.3 363.0,287.0 C356.3,281.7 350.2,275.2 345.0,268.0 C339.8,260.8 335.0,250.7 332.0,244.0Z" fill="#d0eaf2" transform="translate(0,-3)" filter="url(#bl6)"/></g></g>
<path d="M340.0,272.0 C343.5,275.5 353.5,287.2 361.0,293.0 C368.5,298.8 376.8,303.2 385.0,307.0 C393.2,310.8 402.5,313.2 410.0,316.0 C417.5,318.8 422.0,321.5 430.0,324.0 C438.0,326.5 453.3,329.8 458.0,331.0" fill="none" stroke="#2a3c44" stroke-width="1.3" stroke-opacity="0.85" stroke-linecap="round"/>
</g>
<g clip-path="url(#silclip)">
<ellipse cx="500" cy="242" rx="80" ry="36" fill="#7f8c92" opacity="0.55" filter="url(#bl16)" transform="rotate(0 500 242)"/>
<ellipse cx="430" cy="250" rx="50" ry="30" fill="#8f9ca2" opacity="0.35" filter="url(#bl14)" transform="rotate(0 430 250)"/>
<ellipse cx="530" cy="238" rx="28" ry="22" fill="#6e7a80" opacity="0.5" filter="url(#bl10)" transform="rotate(0 530 238)"/>
<ellipse cx="395" cy="240" rx="40" ry="45" fill="#98aab1" opacity="0.25" filter="url(#bl14)" transform="rotate(0 395 240)"/>
<ellipse cx="660" cy="215" rx="40" ry="55" fill="#98a6ac" opacity="0.4" filter="url(#bl14)" transform="rotate(0 660 215)"/>
<ellipse cx="705" cy="170" rx="14" ry="70" fill="#7890a0" opacity="0.35" filter="url(#bl8)" transform="rotate(-10 705 170)"/>
<ellipse cx="500" cy="330" rx="40" ry="70" fill="#ffffff" opacity="0.85" filter="url(#bl14)" transform="rotate(10 500 330)"/>
<ellipse cx="480" cy="390" rx="22" ry="40" fill="#ffffff" opacity="0.6" filter="url(#bl10)" transform="rotate(0 480 390)"/>
<ellipse cx="865" cy="385" rx="60" ry="30" fill="#ffffff" opacity="0.9" filter="url(#bl14)" transform="rotate(-15 865 385)"/>
<ellipse cx="900" cy="360" rx="30" ry="20" fill="#ffffff" opacity="0.6" filter="url(#bl10)" transform="rotate(0 900 360)"/>
<ellipse cx="560" cy="50" rx="70" ry="30" fill="#eefbfe" opacity="0.7" filter="url(#bl16)" transform="rotate(0 560 50)"/>
<ellipse cx="440" cy="90" rx="40" ry="35" fill="#eefbfe" opacity="0.6" filter="url(#bl14)" transform="rotate(0 440 90)"/>
<ellipse cx="630" cy="90" rx="30" ry="30" fill="#eefbfe" opacity="0.5" filter="url(#bl12)" transform="rotate(0 630 90)"/>
<ellipse cx="590" cy="700" rx="45" ry="25" fill="#ffffff" opacity="0.75" filter="url(#bl12)" transform="rotate(0 590 700)"/>
<ellipse cx="810" cy="690" rx="35" ry="30" fill="#ffffff" opacity="0.7" filter="url(#bl12)" transform="rotate(0 810 690)"/>
<ellipse cx="720" cy="600" rx="30" ry="40" fill="#f4fdff" opacity="0.5" filter="url(#bl14)" transform="rotate(0 720 600)"/>
<ellipse cx="270" cy="275" rx="30" ry="22" fill="#f4fdff" opacity="0.55" filter="url(#bl10)" transform="rotate(0 270 275)"/>
<ellipse cx="560" cy="560" rx="45" ry="40" fill="#eaf8fb" opacity="0.5" filter="url(#bl14)" transform="rotate(0 560 560)"/>
<ellipse cx="375" cy="365" rx="10" ry="14" fill="#ffffff" opacity="0.9" filter="url(#bl4)" transform="rotate(0 375 365)"/>
<ellipse cx="430" cy="530" rx="8" ry="12" fill="#ffffff" opacity="0.8" filter="url(#bl4)" transform="rotate(0 430 530)"/>
<ellipse cx="445" cy="355" rx="14" ry="22" fill="#ffffff" opacity="0.9" filter="url(#bl5)" transform="rotate(0 445 355)"/>
<ellipse cx="300" cy="480" rx="70" ry="170" fill="#98adb5" opacity="0.35" filter="url(#bl18)" transform="rotate(-28 300 480)"/>
<ellipse cx="262" cy="270" rx="35" ry="28" fill="#d8eef4" opacity="0.8" filter="url(#bl12)" transform="rotate(0 262 270)"/>
<ellipse cx="400" cy="690" rx="40" ry="30" fill="#c9dde4" opacity="0.6" filter="url(#bl12)" transform="rotate(0 400 690)"/>
<ellipse cx="420" cy="650" rx="50" ry="45" fill="#b7ccd4" opacity="0.35" filter="url(#bl14)" transform="rotate(0 420 650)"/>
</g>
<path d="M431.0,29.2 C437.6,25.0 439.2,23.2 452.0,20.5 C464.8,17.8 490.1,15.4 507.5,13.0 C524.9,10.6 544.6,7.6 556.4,6.1 C568.1,4.6 569.9,3.2 578.0,3.8 C586.1,4.4 596.3,7.2 605.0,9.8 C613.7,12.4 623.2,15.0 630.0,19.5 C636.8,24.0 642.3,29.7 646.0,36.6 C649.7,43.5 648.7,54.5 652.0,61.0 C655.3,67.5 660.3,69.6 666.0,75.7 C671.7,81.8 679.9,89.3 686.0,97.7 C692.1,106.1 698.3,117.7 702.6,126.0 C706.9,134.3 709.6,140.7 712.0,147.4 C714.4,154.1 715.5,160.5 717.0,166.4 C718.5,172.3 721.0,183.0 721.0,183.0 C721.0,183.0 735.0,187.6 741.0,190.0 C747.0,192.4 752.3,194.1 757.0,197.3 C761.7,200.5 765.0,204.2 769.0,209.0 C773.0,213.8 777.6,219.0 781.0,225.8 C784.4,232.6 787.6,243.7 789.4,249.6 C791.2,255.5 791.7,257.0 791.7,261.4 C791.7,265.8 791.0,270.6 789.4,275.7 C787.8,280.8 783.7,288.0 782.0,292.0 C780.3,296.0 779.0,299.5 779.0,299.5 C779.0,299.5 782.5,301.2 788.0,304.0 C793.5,306.8 803.3,312.6 812.0,316.0 C820.7,319.4 840.0,324.4 840.0,324.4 C840.0,324.4 853.2,318.4 862.0,316.0 C870.8,313.6 884.8,310.2 892.7,310.2 C900.6,310.2 903.9,312.2 909.4,316.0 C914.9,319.8 921.1,327.9 926.0,332.7 C930.9,337.5 935.2,339.7 938.5,345.0 C941.8,350.3 944.8,357.1 945.8,364.4 C946.8,371.7 946.0,379.4 944.6,388.8 C943.2,398.2 941.2,410.4 937.3,420.6 C933.4,430.8 928.1,439.8 921.4,450.0 C914.7,460.2 905.1,473.9 897.0,481.6 C888.9,489.3 882.0,492.2 872.6,496.3 C863.2,500.4 849.3,504.0 840.8,506.0 C832.2,508.0 829.4,509.3 821.3,508.5 C813.2,507.7 800.5,504.1 792.0,501.2 C783.5,498.3 776.9,494.2 770.0,491.4 C763.1,488.5 750.5,484.1 750.5,484.1 C750.5,484.1 747.6,489.3 748.0,493.8 C748.4,498.3 749.6,504.5 752.9,511.0 C756.2,517.5 761.1,525.7 767.6,533.0 C774.1,540.3 783.9,546.8 792.0,555.0 C800.1,563.2 808.7,573.1 816.4,582.0 C824.1,590.9 831.9,600.1 838.4,608.6 C844.9,617.1 850.2,624.9 855.5,633.0 C860.8,641.1 867.1,651.8 870.0,657.5 C872.9,663.2 873.4,662.9 872.6,667.0 C871.8,671.1 867.7,676.7 865.3,682.0 C862.9,687.3 859.9,694.0 858.0,699.0 C856.1,704.0 854.0,712.0 854.0,712.0 C854.0,712.0 520.0,712.0 520.0,712.0 C520.0,712.0 519.7,702.2 517.0,698.0 C514.3,693.8 504.0,687.0 504.0,687.0 C504.0,687.0 488.3,693.8 482.0,698.0 C475.7,702.2 466.0,712.0 466.0,712.0 C466.0,712.0 398.0,712.0 398.0,712.0 C398.0,712.0 385.8,704.0 380.0,699.0 C374.2,694.0 367.8,688.2 363.0,682.0 C358.2,675.8 354.2,669.0 351.0,662.0 C347.8,655.0 345.7,647.7 344.0,640.0 C342.3,632.3 343.1,623.3 341.0,616.0 C338.9,608.7 335.8,603.7 331.4,596.4 C326.9,589.1 320.0,579.3 314.3,572.0 C308.6,564.7 301.2,559.4 297.2,552.5 C293.1,545.6 292.0,537.4 290.0,530.5 C288.0,523.6 287.9,516.3 285.0,511.0 C282.1,505.7 278.1,504.8 272.8,498.7 C267.5,492.6 259.4,483.2 253.3,474.3 C247.2,465.4 241.1,453.9 236.2,445.0 C231.3,436.1 227.3,428.7 224.0,420.6 C220.7,412.5 218.2,405.6 216.6,396.2 C215.0,386.8 215.4,373.8 214.2,364.4 C213.0,355.0 210.9,347.4 209.3,340.0 C207.7,332.6 205.0,327.2 204.5,320.0 C204.0,312.8 203.4,306.0 206.1,297.0 C208.8,288.0 214.8,274.5 220.4,266.2 C226.0,257.9 233.1,251.8 239.4,247.2 C245.7,242.6 251.7,240.1 258.4,238.9 C265.1,237.7 273.1,238.2 279.8,240.0 C286.5,241.8 293.2,245.6 298.8,249.6 C304.4,253.6 309.1,258.7 313.1,263.8 C317.1,268.9 319.5,274.9 322.6,280.4 C325.8,285.9 332.0,297.0 332.0,297.0 C332.0,297.0 338.7,300.8 341.0,300.0 C343.3,299.2 346.0,292.0 346.0,292.0 C346.0,292.0 339.9,275.8 336.6,268.7 C333.3,261.6 328.5,256.4 326.2,249.6 C323.9,242.8 323.0,235.3 322.6,228.2 C322.2,221.1 323.0,214.7 323.8,206.8 C324.6,198.9 326.0,189.3 327.4,180.6 C328.8,171.9 330.2,161.3 332.1,154.5 C334.0,147.7 336.4,145.5 338.5,140.0 C340.6,134.5 342.7,127.5 345.0,121.7 C347.3,115.9 348.8,110.4 352.3,105.0 C355.8,99.6 360.8,94.5 366.2,89.3 C371.6,84.1 378.5,78.5 384.7,73.6 C390.9,68.7 398.6,64.3 403.2,59.7 C407.8,55.1 407.8,51.0 412.4,45.9 C417.0,40.8 424.4,33.4 431.0,29.2Z" fill="none" stroke="#22323a" stroke-width="1.3"/>
<g opacity="0.85"><path d="M224.0,284.0 C228.3,283.0 241.7,279.0 250.0,278.0 C258.3,277.0 266.3,276.2 274.0,278.0 C281.7,279.8 290.5,283.0 296.0,289.0 C301.5,295.0 305.5,305.8 307.0,314.0 C308.5,322.2 306.5,331.7 305.0,338.0 C303.5,344.3 299.2,349.7 298.0,352.0" fill="none" stroke="#3f8489" stroke-width="18.0" stroke-linecap="butt" stroke-linejoin="round"/><path d="M224.0,284.0 C228.3,283.0 241.7,279.0 250.0,278.0 C258.3,277.0 266.3,276.2 274.0,278.0 C281.7,279.8 290.5,283.0 296.0,289.0 C301.5,295.0 305.5,305.8 307.0,314.0 C308.5,322.2 306.5,331.7 305.0,338.0 C303.5,344.3 299.2,349.7 298.0,352.0" fill="none" stroke="#5aa5aa" stroke-width="16.0" stroke-linecap="butt" stroke-linejoin="round"/></g>
<g opacity="0.93"><path d="M248.0,376.0 C252.2,373.7 264.7,366.0 273.0,362.0 C281.3,358.0 289.3,354.2 298.0,352.0 C306.7,349.8 318.3,347.3 325.0,349.0 C331.7,350.7 335.0,356.0 338.0,362.0 C341.0,368.0 343.2,377.3 343.0,385.0 C342.8,392.7 340.0,401.3 337.0,408.0 C334.0,414.7 329.2,421.0 325.0,425.0 C320.8,429.0 314.2,430.8 312.0,432.0" fill="none" stroke="#2b6a70" stroke-width="20.0" stroke-linecap="butt" stroke-linejoin="round"/><path d="M248.0,376.0 C252.2,373.7 264.7,366.0 273.0,362.0 C281.3,358.0 289.3,354.2 298.0,352.0 C306.7,349.8 318.3,347.3 325.0,349.0 C331.7,350.7 335.0,356.0 338.0,362.0 C341.0,368.0 343.2,377.3 343.0,385.0 C342.8,392.7 340.0,401.3 337.0,408.0 C334.0,414.7 329.2,421.0 325.0,425.0 C320.8,429.0 314.2,430.8 312.0,432.0" fill="none" stroke="#3d8d93" stroke-width="18.0" stroke-linecap="butt" stroke-linejoin="round"/></g>
<g opacity="0.93"><path d="M287.0,440.0 C291.2,437.7 303.7,430.0 312.0,426.0 C320.3,422.0 328.3,418.2 337.0,416.0 C345.7,413.8 357.3,411.3 364.0,413.0 C370.7,414.7 374.0,420.0 377.0,426.0 C380.0,432.0 382.2,441.3 382.0,449.0 C381.8,456.7 379.0,465.3 376.0,472.0 C373.0,478.7 368.2,485.0 364.0,489.0 C359.8,493.0 353.2,494.8 351.0,496.0" fill="none" stroke="#2b6a70" stroke-width="20.0" stroke-linecap="butt" stroke-linejoin="round"/><path d="M287.0,440.0 C291.2,437.7 303.7,430.0 312.0,426.0 C320.3,422.0 328.3,418.2 337.0,416.0 C345.7,413.8 357.3,411.3 364.0,413.0 C370.7,414.7 374.0,420.0 377.0,426.0 C380.0,432.0 382.2,441.3 382.0,449.0 C381.8,456.7 379.0,465.3 376.0,472.0 C373.0,478.7 368.2,485.0 364.0,489.0 C359.8,493.0 353.2,494.8 351.0,496.0" fill="none" stroke="#3d8d93" stroke-width="18.0" stroke-linecap="butt" stroke-linejoin="round"/></g>
<g opacity="0.93"><path d="M330.0,503.0 C334.2,500.7 346.7,493.0 355.0,489.0 C363.3,485.0 371.3,481.2 380.0,479.0 C388.7,476.8 400.3,474.3 407.0,476.0 C413.7,477.7 417.0,483.0 420.0,489.0 C423.0,495.0 425.2,504.3 425.0,512.0 C424.8,519.7 422.0,528.3 419.0,535.0 C416.0,541.7 411.2,548.0 407.0,552.0 C402.8,556.0 396.2,557.8 394.0,559.0" fill="none" stroke="#2b6a70" stroke-width="20.0" stroke-linecap="butt" stroke-linejoin="round"/><path d="M330.0,503.0 C334.2,500.7 346.7,493.0 355.0,489.0 C363.3,485.0 371.3,481.2 380.0,479.0 C388.7,476.8 400.3,474.3 407.0,476.0 C413.7,477.7 417.0,483.0 420.0,489.0 C423.0,495.0 425.2,504.3 425.0,512.0 C424.8,519.7 422.0,528.3 419.0,535.0 C416.0,541.7 411.2,548.0 407.0,552.0 C402.8,556.0 396.2,557.8 394.0,559.0" fill="none" stroke="#3d8d93" stroke-width="18.0" stroke-linecap="butt" stroke-linejoin="round"/></g>
<g opacity="0.93"><path d="M371.0,568.0 C375.2,565.7 387.7,558.0 396.0,554.0 C404.3,550.0 412.3,546.2 421.0,544.0 C429.7,541.8 441.3,539.3 448.0,541.0 C454.7,542.7 458.0,548.0 461.0,554.0 C464.0,560.0 466.2,569.3 466.0,577.0 C465.8,584.7 463.0,593.3 460.0,600.0 C457.0,606.7 452.2,613.0 448.0,617.0 C443.8,621.0 437.2,622.8 435.0,624.0" fill="none" stroke="#2b6a70" stroke-width="20.0" stroke-linecap="butt" stroke-linejoin="round"/><path d="M371.0,568.0 C375.2,565.7 387.7,558.0 396.0,554.0 C404.3,550.0 412.3,546.2 421.0,544.0 C429.7,541.8 441.3,539.3 448.0,541.0 C454.7,542.7 458.0,548.0 461.0,554.0 C464.0,560.0 466.2,569.3 466.0,577.0 C465.8,584.7 463.0,593.3 460.0,600.0 C457.0,606.7 452.2,613.0 448.0,617.0 C443.8,621.0 437.2,622.8 435.0,624.0" fill="none" stroke="#3d8d93" stroke-width="18.0" stroke-linecap="butt" stroke-linejoin="round"/></g>
<g opacity="0.95"><path d="M410.0,632.0 C413.3,629.7 423.8,622.3 430.0,618.0 C436.2,613.7 444.2,608.0 447.0,606.0" fill="none" stroke="#2b6a70" stroke-width="20.0" stroke-linecap="butt" stroke-linejoin="round"/><path d="M410.0,632.0 C413.3,629.7 423.8,622.3 430.0,618.0 C436.2,613.7 444.2,608.0 447.0,606.0" fill="none" stroke="#3d8d93" stroke-width="18.0" stroke-linecap="butt" stroke-linejoin="round"/></g>
<g opacity="0.9"><path d="M447.0,606.0 C448.5,607.7 453.7,610.8 456.0,616.0 C458.3,621.2 459.2,630.2 461.0,637.0 C462.8,643.8 465.3,651.7 467.0,657.0 C468.7,662.3 470.3,667.0 471.0,669.0" fill="none" stroke="#2f7479" stroke-width="8.5" stroke-linecap="round" stroke-linejoin="round"/><path d="M447.0,606.0 C448.5,607.7 453.7,610.8 456.0,616.0 C458.3,621.2 459.2,630.2 461.0,637.0 C462.8,643.8 465.3,651.7 467.0,657.0 C468.7,662.3 470.3,667.0 471.0,669.0" fill="none" stroke="#57adb1" stroke-width="6.5" stroke-linecap="round" stroke-linejoin="round"/><path d="M447.0,606.0 C448.5,607.7 453.7,610.8 456.0,616.0 C458.3,621.2 459.2,630.2 461.0,637.0 C462.8,643.8 465.3,651.7 467.0,657.0 C468.7,662.3 470.3,667.0 471.0,669.0" fill="none" stroke="#86d2d4" stroke-width="1.8" stroke-linecap="round" stroke-opacity="0.55" transform="translate(-0.8,-1)"/></g>
<g opacity="1.0"><path d="M449.0,37.0 C444.4,40.6 430.9,52.1 421.7,58.8 C412.5,65.5 401.7,71.8 394.0,77.3 C386.3,82.8 380.9,86.9 375.5,92.1 C370.1,97.3 366.2,103.3 361.6,108.7 C357.0,114.1 352.3,119.5 347.7,124.4 C343.1,129.3 338.8,134.2 333.9,138.3 C328.9,142.4 322.8,145.4 318.0,149.0 C313.2,152.6 308.4,155.5 305.0,160.0 C301.6,164.5 300.4,171.6 297.5,175.9 C294.6,180.2 293.4,182.8 287.7,185.6 C282.0,188.4 271.4,189.3 263.3,193.0 C255.2,196.7 245.6,201.4 238.9,207.6 C232.2,213.8 226.7,222.1 223.0,230.0 C219.3,237.9 218.0,250.8 217.0,255.0" fill="none" stroke="#0a5c5e" stroke-width="8.5" stroke-linecap="round" stroke-linejoin="round"/><path d="M449.0,37.0 C444.4,40.6 430.9,52.1 421.7,58.8 C412.5,65.5 401.7,71.8 394.0,77.3 C386.3,82.8 380.9,86.9 375.5,92.1 C370.1,97.3 366.2,103.3 361.6,108.7 C357.0,114.1 352.3,119.5 347.7,124.4 C343.1,129.3 338.8,134.2 333.9,138.3 C328.9,142.4 322.8,145.4 318.0,149.0 C313.2,152.6 308.4,155.5 305.0,160.0 C301.6,164.5 300.4,171.6 297.5,175.9 C294.6,180.2 293.4,182.8 287.7,185.6 C282.0,188.4 271.4,189.3 263.3,193.0 C255.2,196.7 245.6,201.4 238.9,207.6 C232.2,213.8 226.7,222.1 223.0,230.0 C219.3,237.9 218.0,250.8 217.0,255.0" fill="none" stroke="#12807f" stroke-width="6.5" stroke-linecap="round" stroke-linejoin="round"/><path d="M449.0,37.0 C444.4,40.6 430.9,52.1 421.7,58.8 C412.5,65.5 401.7,71.8 394.0,77.3 C386.3,82.8 380.9,86.9 375.5,92.1 C370.1,97.3 366.2,103.3 361.6,108.7 C357.0,114.1 352.3,119.5 347.7,124.4 C343.1,129.3 338.8,134.2 333.9,138.3 C328.9,142.4 322.8,145.4 318.0,149.0 C313.2,152.6 308.4,155.5 305.0,160.0 C301.6,164.5 300.4,171.6 297.5,175.9 C294.6,180.2 293.4,182.8 287.7,185.6 C282.0,188.4 271.4,189.3 263.3,193.0 C255.2,196.7 245.6,201.4 238.9,207.6 C232.2,213.8 226.7,222.1 223.0,230.0 C219.3,237.9 218.0,250.8 217.0,255.0" fill="none" stroke="#3fb8b6" stroke-width="1.8" stroke-linecap="round" stroke-opacity="0.7" transform="translate(-0.8,-1)"/></g>
<path d="M211,252 C214,250 220,250 222,254 C224,270 226,292 224,308 C222,318 214,320 206,316 C199,312 194,308 196,302 C200,292 208,282 211,252 Z" fill="#0f6f70" stroke="#0a5556" stroke-width="1"/>
<path d="M214,258 C216,270 217,290 214,305" fill="none" stroke="#2b9595" stroke-width="2.5" stroke-linecap="round" opacity="0.7"/>
<g opacity="0.85"><path d="M449.0,37.9 C450.8,39.6 456.8,43.6 460.0,48.0 C463.2,52.4 465.8,58.3 468.0,64.0 C470.2,69.7 471.7,76.3 473.0,82.0 C474.3,87.7 475.5,95.3 476.0,98.0" fill="none" stroke="#6aa6aa" stroke-width="9.0" stroke-linecap="round" stroke-linejoin="round"/><path d="M449.0,37.9 C450.8,39.6 456.8,43.6 460.0,48.0 C463.2,52.4 465.8,58.3 468.0,64.0 C470.2,69.7 471.7,76.3 473.0,82.0 C474.3,87.7 475.5,95.3 476.0,98.0" fill="none" stroke="#7db7ba" stroke-width="7.0" stroke-linecap="round" stroke-linejoin="round"/><path d="M449.0,37.9 C450.8,39.6 456.8,43.6 460.0,48.0 C463.2,52.4 465.8,58.3 468.0,64.0 C470.2,69.7 471.7,76.3 473.0,82.0 C474.3,87.7 475.5,95.3 476.0,98.0" fill="none" stroke="#b8e0e2" stroke-width="2.0" stroke-linecap="round" stroke-opacity="0.55" transform="translate(-0.8,-1)"/></g>
<path d="M466.0,96.0 L484.0,98.0 L483.0,160.0 L488.0,160.0 L477.0,176.0 L466.0,160.0 L470.0,160.0Z" fill="#45a2a7" stroke="#2a7a80" stroke-width="1" stroke-linejoin="round" opacity="0.95"/>
<g opacity="1.0"><path d="M474.0,175.0 C470.8,176.3 461.0,179.3 455.0,183.0 C449.0,186.7 442.8,191.5 438.0,197.0 C433.2,202.5 429.7,208.3 426.0,216.0 C422.3,223.7 418.7,233.7 416.0,243.0 C413.3,252.3 411.5,262.5 410.0,272.0 C408.5,281.5 407.0,290.3 407.0,300.0 C407.0,309.7 407.8,321.3 410.0,330.0 C412.2,338.7 416.3,343.8 420.0,352.0 C423.7,360.2 430.0,374.5 432.0,379.0" fill="none" stroke="#2f7479" stroke-width="8.0" stroke-linecap="round" stroke-linejoin="round"/><path d="M474.0,175.0 C470.8,176.3 461.0,179.3 455.0,183.0 C449.0,186.7 442.8,191.5 438.0,197.0 C433.2,202.5 429.7,208.3 426.0,216.0 C422.3,223.7 418.7,233.7 416.0,243.0 C413.3,252.3 411.5,262.5 410.0,272.0 C408.5,281.5 407.0,290.3 407.0,300.0 C407.0,309.7 407.8,321.3 410.0,330.0 C412.2,338.7 416.3,343.8 420.0,352.0 C423.7,360.2 430.0,374.5 432.0,379.0" fill="none" stroke="#4a9fa4" stroke-width="6.0" stroke-linecap="round" stroke-linejoin="round"/><path d="M474.0,175.0 C470.8,176.3 461.0,179.3 455.0,183.0 C449.0,186.7 442.8,191.5 438.0,197.0 C433.2,202.5 429.7,208.3 426.0,216.0 C422.3,223.7 418.7,233.7 416.0,243.0 C413.3,252.3 411.5,262.5 410.0,272.0 C408.5,281.5 407.0,290.3 407.0,300.0 C407.0,309.7 407.8,321.3 410.0,330.0 C412.2,338.7 416.3,343.8 420.0,352.0 C423.7,360.2 430.0,374.5 432.0,379.0" fill="none" stroke="#86d2d4" stroke-width="1.7" stroke-linecap="round" stroke-opacity="0.55" transform="translate(-0.8,-1)"/></g>
<g opacity="0.9"><path d="M466.0,180.0 C462.8,182.7 452.7,190.2 447.0,196.0 C441.3,201.8 436.5,206.8 432.0,215.0 C427.5,223.2 423.0,235.0 420.0,245.0 C417.0,255.0 415.0,265.8 414.0,275.0 C413.0,284.2 412.0,293.5 414.0,300.0 C416.0,306.5 420.2,309.2 426.0,314.0 C431.8,318.8 443.2,324.2 449.0,329.0 C454.8,333.8 457.0,336.7 461.0,343.0 C465.0,349.3 469.0,359.0 473.0,367.0 C477.0,375.0 481.0,384.0 485.0,391.0 C489.0,398.0 494.2,404.0 497.0,409.0 C499.8,414.0 502.0,418.0 502.0,421.0 C502.0,424.0 500.0,426.5 497.0,427.0 C494.0,427.5 490.0,427.0 484.0,424.0 C478.0,421.0 467.2,413.7 461.0,409.0 C454.8,404.3 451.0,400.2 447.0,396.0 C443.0,391.8 438.7,386.0 437.0,384.0" fill="none" stroke="#2f7479" stroke-width="7.5" stroke-linecap="round" stroke-linejoin="round"/><path d="M466.0,180.0 C462.8,182.7 452.7,190.2 447.0,196.0 C441.3,201.8 436.5,206.8 432.0,215.0 C427.5,223.2 423.0,235.0 420.0,245.0 C417.0,255.0 415.0,265.8 414.0,275.0 C413.0,284.2 412.0,293.5 414.0,300.0 C416.0,306.5 420.2,309.2 426.0,314.0 C431.8,318.8 443.2,324.2 449.0,329.0 C454.8,333.8 457.0,336.7 461.0,343.0 C465.0,349.3 469.0,359.0 473.0,367.0 C477.0,375.0 481.0,384.0 485.0,391.0 C489.0,398.0 494.2,404.0 497.0,409.0 C499.8,414.0 502.0,418.0 502.0,421.0 C502.0,424.0 500.0,426.5 497.0,427.0 C494.0,427.5 490.0,427.0 484.0,424.0 C478.0,421.0 467.2,413.7 461.0,409.0 C454.8,404.3 451.0,400.2 447.0,396.0 C443.0,391.8 438.7,386.0 437.0,384.0" fill="none" stroke="#4aa7ab" stroke-width="5.5" stroke-linecap="round" stroke-linejoin="round"/><path d="M466.0,180.0 C462.8,182.7 452.7,190.2 447.0,196.0 C441.3,201.8 436.5,206.8 432.0,215.0 C427.5,223.2 423.0,235.0 420.0,245.0 C417.0,255.0 415.0,265.8 414.0,275.0 C413.0,284.2 412.0,293.5 414.0,300.0 C416.0,306.5 420.2,309.2 426.0,314.0 C431.8,318.8 443.2,324.2 449.0,329.0 C454.8,333.8 457.0,336.7 461.0,343.0 C465.0,349.3 469.0,359.0 473.0,367.0 C477.0,375.0 481.0,384.0 485.0,391.0 C489.0,398.0 494.2,404.0 497.0,409.0 C499.8,414.0 502.0,418.0 502.0,421.0 C502.0,424.0 500.0,426.5 497.0,427.0 C494.0,427.5 490.0,427.0 484.0,424.0 C478.0,421.0 467.2,413.7 461.0,409.0 C454.8,404.3 451.0,400.2 447.0,396.0 C443.0,391.8 438.7,386.0 437.0,384.0" fill="none" stroke="#86d2d4" stroke-width="1.5" stroke-linecap="round" stroke-opacity="0.55" transform="translate(-0.8,-1)"/></g>
<g opacity="1.0"><path d="M410.0,330.0 C411.3,332.5 415.5,339.7 418.0,345.0 C420.5,350.3 422.7,356.5 425.0,362.0 C427.3,367.5 430.8,375.3 432.0,378.0" fill="none" stroke="#0a5557" stroke-width="6.0" stroke-linecap="round" stroke-linejoin="round"/><path d="M410.0,330.0 C411.3,332.5 415.5,339.7 418.0,345.0 C420.5,350.3 422.7,356.5 425.0,362.0 C427.3,367.5 430.8,375.3 432.0,378.0" fill="none" stroke="#0f6e70" stroke-width="4.0" stroke-linecap="round" stroke-linejoin="round"/><path d="M410.0,330.0 C411.3,332.5 415.5,339.7 418.0,345.0 C420.5,350.3 422.7,356.5 425.0,362.0 C427.3,367.5 430.8,375.3 432.0,378.0" fill="none" stroke="#2a9696" stroke-width="1.2" stroke-linecap="round" stroke-opacity="0.55" transform="translate(-0.8,-1)"/></g>
<g opacity="0.95"><path d="M408.0,268.0 C410.8,263.3 418.3,248.8 425.0,240.0 C431.7,231.2 440.5,221.7 448.0,215.0 C455.5,208.3 466.3,202.5 470.0,200.0" fill="none" stroke="#2b7f85" stroke-width="14.0" stroke-linecap="butt" stroke-linejoin="round"/><path d="M408.0,268.0 C410.8,263.3 418.3,248.8 425.0,240.0 C431.7,231.2 440.5,221.7 448.0,215.0 C455.5,208.3 466.3,202.5 470.0,200.0" fill="none" stroke="#3d9ca1" stroke-width="12.0" stroke-linecap="butt" stroke-linejoin="round"/></g>
<path d="M466.0,188.0 L476.0,168.0 L500.0,164.0 L516.0,172.0 L510.0,190.0 L487.0,215.0 L476.0,209.0Z" fill="#45a2a7" stroke="#2a7a80" stroke-width="1" stroke-linejoin="round" opacity="0.97"/>
<g opacity="1.0"><path d="M505.0,170.0 C507.9,169.5 515.2,166.5 522.6,166.9 C530.0,167.3 541.9,169.9 549.3,172.3 C556.7,174.7 561.8,177.3 567.1,181.2 C572.5,185.0 577.5,189.8 581.4,195.4 C585.3,201.0 588.2,207.9 590.3,215.0 C592.4,222.1 592.9,231.4 593.8,238.2 C594.7,245.0 595.3,247.1 595.6,256.0 C595.9,264.9 595.9,280.9 595.6,291.6 C595.3,302.3 594.3,315.3 594.0,320.0" fill="none" stroke="#2f7479" stroke-width="10.0" stroke-linecap="round" stroke-linejoin="round"/><path d="M505.0,170.0 C507.9,169.5 515.2,166.5 522.6,166.9 C530.0,167.3 541.9,169.9 549.3,172.3 C556.7,174.7 561.8,177.3 567.1,181.2 C572.5,185.0 577.5,189.8 581.4,195.4 C585.3,201.0 588.2,207.9 590.3,215.0 C592.4,222.1 592.9,231.4 593.8,238.2 C594.7,245.0 595.3,247.1 595.6,256.0 C595.9,264.9 595.9,280.9 595.6,291.6 C595.3,302.3 594.3,315.3 594.0,320.0" fill="none" stroke="#4a9fa4" stroke-width="8.0" stroke-linecap="round" stroke-linejoin="round"/><path d="M505.0,170.0 C507.9,169.5 515.2,166.5 522.6,166.9 C530.0,167.3 541.9,169.9 549.3,172.3 C556.7,174.7 561.8,177.3 567.1,181.2 C572.5,185.0 577.5,189.8 581.4,195.4 C585.3,201.0 588.2,207.9 590.3,215.0 C592.4,222.1 592.9,231.4 593.8,238.2 C594.7,245.0 595.3,247.1 595.6,256.0 C595.9,264.9 595.9,280.9 595.6,291.6 C595.3,302.3 594.3,315.3 594.0,320.0" fill="none" stroke="#86d2d4" stroke-width="2.2" stroke-linecap="round" stroke-opacity="0.55" transform="translate(-0.8,-1)"/></g>
<g opacity="1.0"><path d="M594.0,205.0 C595.8,198.7 601.0,179.2 604.5,166.9 C608.0,154.6 612.2,143.2 615.2,131.3 C618.2,119.4 621.7,103.0 622.3,95.6 C622.9,88.2 621.2,88.5 618.8,86.7 C616.4,84.9 613.8,84.1 608.1,85.0 C602.5,85.9 593.2,88.8 584.9,92.1 C576.6,95.3 564.4,100.3 558.2,104.5 C552.0,108.7 549.6,111.0 547.5,117.0 C545.4,123.0 545.1,131.9 545.7,140.2 C546.3,148.5 548.4,159.9 551.1,166.9 C553.8,173.9 560.2,179.5 562.0,182.0" fill="none" stroke="#2f7479" stroke-width="8.0" stroke-linecap="round" stroke-linejoin="round"/><path d="M594.0,205.0 C595.8,198.7 601.0,179.2 604.5,166.9 C608.0,154.6 612.2,143.2 615.2,131.3 C618.2,119.4 621.7,103.0 622.3,95.6 C622.9,88.2 621.2,88.5 618.8,86.7 C616.4,84.9 613.8,84.1 608.1,85.0 C602.5,85.9 593.2,88.8 584.9,92.1 C576.6,95.3 564.4,100.3 558.2,104.5 C552.0,108.7 549.6,111.0 547.5,117.0 C545.4,123.0 545.1,131.9 545.7,140.2 C546.3,148.5 548.4,159.9 551.1,166.9 C553.8,173.9 560.2,179.5 562.0,182.0" fill="none" stroke="#4a9fa4" stroke-width="6.0" stroke-linecap="round" stroke-linejoin="round"/><path d="M594.0,205.0 C595.8,198.7 601.0,179.2 604.5,166.9 C608.0,154.6 612.2,143.2 615.2,131.3 C618.2,119.4 621.7,103.0 622.3,95.6 C622.9,88.2 621.2,88.5 618.8,86.7 C616.4,84.9 613.8,84.1 608.1,85.0 C602.5,85.9 593.2,88.8 584.9,92.1 C576.6,95.3 564.4,100.3 558.2,104.5 C552.0,108.7 549.6,111.0 547.5,117.0 C545.4,123.0 545.1,131.9 545.7,140.2 C546.3,148.5 548.4,159.9 551.1,166.9 C553.8,173.9 560.2,179.5 562.0,182.0" fill="none" stroke="#86d2d4" stroke-width="1.7" stroke-linecap="round" stroke-opacity="0.55" transform="translate(-0.8,-1)"/></g>
<g opacity="0.95"><path d="M600.0,212.0 C604.2,214.3 617.0,222.8 625.0,226.0 C633.0,229.2 644.2,230.2 648.0,231.0" fill="none" stroke="#33767c" stroke-width="15.0" stroke-linecap="butt" stroke-linejoin="round"/><path d="M600.0,212.0 C604.2,214.3 617.0,222.8 625.0,226.0 C633.0,229.2 644.2,230.2 648.0,231.0" fill="none" stroke="#47989d" stroke-width="13.0" stroke-linecap="butt" stroke-linejoin="round"/></g>
<path d="M640.0,218.0 L666.0,231.0 L642.0,246.0Z" fill="#45a2a7" stroke="#2a7a80" stroke-width="1" stroke-linejoin="round" opacity="0.95"/>
<g opacity="0.85"><path d="M662.0,236.0 C668.5,236.4 691.6,236.0 700.7,238.2 C709.8,240.3 714.4,244.8 716.8,248.9 C719.2,253.1 717.7,259.0 715.0,263.1 C712.3,267.2 706.1,271.7 700.7,273.8 C695.4,275.9 690.3,277.1 682.9,275.6 C675.5,274.1 663.6,268.9 656.2,265.0 C648.8,261.1 643.6,256.6 638.4,252.4 C633.2,248.2 627.2,242.1 625.0,240.0" fill="none" stroke="#2f7479" stroke-width="7.5" stroke-linecap="round" stroke-linejoin="round"/><path d="M662.0,236.0 C668.5,236.4 691.6,236.0 700.7,238.2 C709.8,240.3 714.4,244.8 716.8,248.9 C719.2,253.1 717.7,259.0 715.0,263.1 C712.3,267.2 706.1,271.7 700.7,273.8 C695.4,275.9 690.3,277.1 682.9,275.6 C675.5,274.1 663.6,268.9 656.2,265.0 C648.8,261.1 643.6,256.6 638.4,252.4 C633.2,248.2 627.2,242.1 625.0,240.0" fill="none" stroke="#55aeb2" stroke-width="5.5" stroke-linecap="round" stroke-linejoin="round"/><path d="M662.0,236.0 C668.5,236.4 691.6,236.0 700.7,238.2 C709.8,240.3 714.4,244.8 716.8,248.9 C719.2,253.1 717.7,259.0 715.0,263.1 C712.3,267.2 706.1,271.7 700.7,273.8 C695.4,275.9 690.3,277.1 682.9,275.6 C675.5,274.1 663.6,268.9 656.2,265.0 C648.8,261.1 643.6,256.6 638.4,252.4 C633.2,248.2 627.2,242.1 625.0,240.0" fill="none" stroke="#86d2d4" stroke-width="1.5" stroke-linecap="round" stroke-opacity="0.55" transform="translate(-0.8,-1)"/></g>
<path d="M575.0,262.0 L590.0,240.0 L606.0,262.0 L600.0,262.0 L600.0,300.0 L583.0,300.0 L583.0,262.0Z" fill="#45a2a7" stroke="#2a7a80" stroke-width="1" stroke-linejoin="round" opacity="0.95"/>
<g opacity="0.95"><path d="M589.0,255.0 C587.5,260.8 583.5,278.2 580.0,290.0 C576.5,301.8 573.0,311.3 568.0,326.0 C563.0,340.7 556.0,360.3 550.0,378.0 C544.0,395.7 536.3,417.5 532.0,432.0 C527.7,446.5 525.3,459.5 524.0,465.0" fill="none" stroke="#33767c" stroke-width="18.0" stroke-linecap="butt" stroke-linejoin="round"/><path d="M589.0,255.0 C587.5,260.8 583.5,278.2 580.0,290.0 C576.5,301.8 573.0,311.3 568.0,326.0 C563.0,340.7 556.0,360.3 550.0,378.0 C544.0,395.7 536.3,417.5 532.0,432.0 C527.7,446.5 525.3,459.5 524.0,465.0" fill="none" stroke="#47989d" stroke-width="16.0" stroke-linecap="butt" stroke-linejoin="round"/></g>
<path d="M505.0,463.0 L560.0,460.0 L546.0,476.0 L527.0,500.0 L518.0,488.0Z" fill="#43a0a5" stroke="#2a7a80" stroke-width="1" stroke-linejoin="round" opacity="0.97"/>
<g opacity="1.0"><path d="M524.0,498.0 C522.3,502.0 517.8,515.3 514.0,522.0 C510.2,528.7 504.7,532.7 501.0,538.0 C497.3,543.3 494.5,548.8 492.0,554.0 C489.5,559.2 487.7,565.5 486.0,569.0 C484.3,572.5 482.7,574.0 482.0,575.0" fill="none" stroke="#2f7479" stroke-width="8.0" stroke-linecap="round" stroke-linejoin="round"/><path d="M524.0,498.0 C522.3,502.0 517.8,515.3 514.0,522.0 C510.2,528.7 504.7,532.7 501.0,538.0 C497.3,543.3 494.5,548.8 492.0,554.0 C489.5,559.2 487.7,565.5 486.0,569.0 C484.3,572.5 482.7,574.0 482.0,575.0" fill="none" stroke="#4a9fa4" stroke-width="6.0" stroke-linecap="round" stroke-linejoin="round"/><path d="M524.0,498.0 C522.3,502.0 517.8,515.3 514.0,522.0 C510.2,528.7 504.7,532.7 501.0,538.0 C497.3,543.3 494.5,548.8 492.0,554.0 C489.5,559.2 487.7,565.5 486.0,569.0 C484.3,572.5 482.7,574.0 482.0,575.0" fill="none" stroke="#86d2d4" stroke-width="1.7" stroke-linecap="round" stroke-opacity="0.55" transform="translate(-0.8,-1)"/></g>
<g opacity="1.0"><path d="M484.0,570.0 C487.8,569.3 501.0,563.7 507.0,566.0 C513.0,568.3 515.8,577.0 520.0,584.0 C524.2,591.0 527.0,601.5 532.0,608.0 C537.0,614.5 543.0,619.5 550.0,623.0 C557.0,626.5 566.0,629.0 574.0,629.0 C582.0,629.0 591.8,626.5 598.0,623.0 C604.2,619.5 608.5,612.7 611.0,608.0 C613.5,603.3 614.8,598.0 613.0,595.0 C611.2,592.0 605.5,589.7 600.0,590.0 C594.5,590.3 584.2,594.3 580.0,597.0 C575.8,599.7 571.7,603.5 575.0,606.0 C578.3,608.5 593.5,613.0 600.0,612.0 C606.5,611.0 611.2,608.7 614.0,600.0 C616.8,591.3 616.5,571.8 617.0,560.0 C617.5,548.2 617.0,534.2 617.0,529.0" fill="none" stroke="#2f7479" stroke-width="8.0" stroke-linecap="round" stroke-linejoin="round"/><path d="M484.0,570.0 C487.8,569.3 501.0,563.7 507.0,566.0 C513.0,568.3 515.8,577.0 520.0,584.0 C524.2,591.0 527.0,601.5 532.0,608.0 C537.0,614.5 543.0,619.5 550.0,623.0 C557.0,626.5 566.0,629.0 574.0,629.0 C582.0,629.0 591.8,626.5 598.0,623.0 C604.2,619.5 608.5,612.7 611.0,608.0 C613.5,603.3 614.8,598.0 613.0,595.0 C611.2,592.0 605.5,589.7 600.0,590.0 C594.5,590.3 584.2,594.3 580.0,597.0 C575.8,599.7 571.7,603.5 575.0,606.0 C578.3,608.5 593.5,613.0 600.0,612.0 C606.5,611.0 611.2,608.7 614.0,600.0 C616.8,591.3 616.5,571.8 617.0,560.0 C617.5,548.2 617.0,534.2 617.0,529.0" fill="none" stroke="#4a9fa4" stroke-width="6.0" stroke-linecap="round" stroke-linejoin="round"/><path d="M484.0,570.0 C487.8,569.3 501.0,563.7 507.0,566.0 C513.0,568.3 515.8,577.0 520.0,584.0 C524.2,591.0 527.0,601.5 532.0,608.0 C537.0,614.5 543.0,619.5 550.0,623.0 C557.0,626.5 566.0,629.0 574.0,629.0 C582.0,629.0 591.8,626.5 598.0,623.0 C604.2,619.5 608.5,612.7 611.0,608.0 C613.5,603.3 614.8,598.0 613.0,595.0 C611.2,592.0 605.5,589.7 600.0,590.0 C594.5,590.3 584.2,594.3 580.0,597.0 C575.8,599.7 571.7,603.5 575.0,606.0 C578.3,608.5 593.5,613.0 600.0,612.0 C606.5,611.0 611.2,608.7 614.0,600.0 C616.8,591.3 616.5,571.8 617.0,560.0 C617.5,548.2 617.0,534.2 617.0,529.0" fill="none" stroke="#86d2d4" stroke-width="1.7" stroke-linecap="round" stroke-opacity="0.55" transform="translate(-0.8,-1)"/></g>
<g opacity="0.95"><path d="M600.0,255.0 C599.7,262.5 599.0,280.8 598.0,300.0 C597.0,319.2 594.8,348.3 594.0,370.0 C593.2,391.7 592.7,410.0 593.0,430.0 C593.3,450.0 594.5,474.3 596.0,490.0 C597.5,505.7 601.0,518.3 602.0,524.0" fill="none" stroke="#33767c" stroke-width="22.0" stroke-linecap="butt" stroke-linejoin="round"/><path d="M600.0,255.0 C599.7,262.5 599.0,280.8 598.0,300.0 C597.0,319.2 594.8,348.3 594.0,370.0 C593.2,391.7 592.7,410.0 593.0,430.0 C593.3,450.0 594.5,474.3 596.0,490.0 C597.5,505.7 601.0,518.3 602.0,524.0" fill="none" stroke="#3d9ea3" stroke-width="20.0" stroke-linecap="butt" stroke-linejoin="round"/></g>
<g opacity="0.95"><path d="M612.0,400.0 C616.7,403.0 630.7,411.3 640.0,418.0 C649.3,424.7 661.3,431.3 668.0,440.0 C674.7,448.7 679.3,461.0 680.0,470.0 C680.7,479.0 677.3,487.7 672.0,494.0 C666.7,500.3 654.0,503.0 648.0,508.0 C642.0,513.0 637.3,518.7 636.0,524.0 C634.7,529.3 634.7,539.0 640.0,540.0 C645.3,541.0 659.7,530.7 668.0,530.0 C676.3,529.3 686.3,535.0 690.0,536.0" fill="none" stroke="#33767c" stroke-width="17.0" stroke-linecap="butt" stroke-linejoin="round"/><path d="M612.0,400.0 C616.7,403.0 630.7,411.3 640.0,418.0 C649.3,424.7 661.3,431.3 668.0,440.0 C674.7,448.7 679.3,461.0 680.0,470.0 C680.7,479.0 677.3,487.7 672.0,494.0 C666.7,500.3 654.0,503.0 648.0,508.0 C642.0,513.0 637.3,518.7 636.0,524.0 C634.7,529.3 634.7,539.0 640.0,540.0 C645.3,541.0 659.7,530.7 668.0,530.0 C676.3,529.3 686.3,535.0 690.0,536.0" fill="none" stroke="#47989d" stroke-width="15.0" stroke-linecap="butt" stroke-linejoin="round"/></g>
<g opacity="1.0"><path d="M690.0,536.0 C692.5,536.0 700.0,535.0 705.0,536.0 C710.0,537.0 715.2,538.0 720.0,542.0 C724.8,546.0 731.3,553.0 734.0,560.0 C736.7,567.0 737.3,576.7 736.0,584.0 C734.7,591.3 729.7,597.8 726.0,604.0 C722.3,610.2 716.8,615.7 714.0,621.0 C711.2,626.3 709.8,633.5 709.0,636.0" fill="none" stroke="#2f7479" stroke-width="8.0" stroke-linecap="round" stroke-linejoin="round"/><path d="M690.0,536.0 C692.5,536.0 700.0,535.0 705.0,536.0 C710.0,537.0 715.2,538.0 720.0,542.0 C724.8,546.0 731.3,553.0 734.0,560.0 C736.7,567.0 737.3,576.7 736.0,584.0 C734.7,591.3 729.7,597.8 726.0,604.0 C722.3,610.2 716.8,615.7 714.0,621.0 C711.2,626.3 709.8,633.5 709.0,636.0" fill="none" stroke="#4a9fa4" stroke-width="6.0" stroke-linecap="round" stroke-linejoin="round"/><path d="M690.0,536.0 C692.5,536.0 700.0,535.0 705.0,536.0 C710.0,537.0 715.2,538.0 720.0,542.0 C724.8,546.0 731.3,553.0 734.0,560.0 C736.7,567.0 737.3,576.7 736.0,584.0 C734.7,591.3 729.7,597.8 726.0,604.0 C722.3,610.2 716.8,615.7 714.0,621.0 C711.2,626.3 709.8,633.5 709.0,636.0" fill="none" stroke="#86d2d4" stroke-width="1.7" stroke-linecap="round" stroke-opacity="0.55" transform="translate(-0.8,-1)"/></g>
<g opacity="1.0"><path d="M598.0,340.0 C599.3,344.2 603.3,357.7 606.0,365.0 C608.7,372.3 612.0,378.2 614.0,384.0 C616.0,389.8 617.3,397.3 618.0,400.0" fill="none" stroke="#2f7479" stroke-width="7.0" stroke-linecap="round" stroke-linejoin="round"/><path d="M598.0,340.0 C599.3,344.2 603.3,357.7 606.0,365.0 C608.7,372.3 612.0,378.2 614.0,384.0 C616.0,389.8 617.3,397.3 618.0,400.0" fill="none" stroke="#4a9fa4" stroke-width="5.0" stroke-linecap="round" stroke-linejoin="round"/><path d="M598.0,340.0 C599.3,344.2 603.3,357.7 606.0,365.0 C608.7,372.3 612.0,378.2 614.0,384.0 C616.0,389.8 617.3,397.3 618.0,400.0" fill="none" stroke="#86d2d4" stroke-width="1.4" stroke-linecap="round" stroke-opacity="0.55" transform="translate(-0.8,-1)"/></g>
<path d="M568.0,383.0 C571.7,382.8 582.8,382.3 590.0,382.0 C597.2,381.7 607.5,381.2 611.0,381.0" fill="none" stroke="#c05c61" stroke-width="4" stroke-linecap="round"/>
<path d="M620.0,371.0 C623.0,369.5 631.5,363.5 638.0,362.0 C644.5,360.5 654.0,359.5 659.0,362.0 C664.0,364.5 667.0,370.3 668.0,377.0 C669.0,383.7 666.5,392.8 665.0,402.0 C663.5,411.2 661.8,419.3 659.0,432.0 C656.2,444.7 650.5,462.8 648.0,478.0 C645.5,493.2 644.7,507.8 644.0,523.0 C643.3,538.2 642.5,556.3 644.0,569.0 C645.5,581.7 650.5,588.8 653.0,599.0 C655.5,609.2 658.0,619.8 659.0,630.0 C660.0,640.2 658.5,648.8 659.0,660.0 C659.5,671.2 661.5,690.8 662.0,697.0" fill="none" stroke="#b9555b" stroke-width="5" stroke-linecap="round"/>
<path d="M620.0,371.0 C623.0,369.5 631.5,363.5 638.0,362.0 C644.5,360.5 654.0,359.5 659.0,362.0 C664.0,364.5 667.0,370.3 668.0,377.0 C669.0,383.7 666.5,392.8 665.0,402.0 C663.5,411.2 661.8,419.3 659.0,432.0 C656.2,444.7 650.5,462.8 648.0,478.0 C645.5,493.2 644.7,507.8 644.0,523.0 C643.3,538.2 642.5,556.3 644.0,569.0 C645.5,581.7 650.5,588.8 653.0,599.0 C655.5,609.2 658.0,619.8 659.0,630.0 C660.0,640.2 658.5,648.8 659.0,660.0 C659.5,671.2 661.5,690.8 662.0,697.0" fill="none" stroke="#e08a8e" stroke-width="1.4" stroke-linecap="round" opacity="0.6" transform="translate(-0.8,0)"/>
<line x1="391.6" y1="157.6" x2="406.4" y2="163.9" stroke="#2c8288" stroke-width="5.5" stroke-linecap="round"/><line x1="391.6" y1="157.6" x2="406.4" y2="163.9" stroke="#4aaeb2" stroke-width="4.5" stroke-linecap="round"/>
<line x1="415" y1="151.3" x2="406.4" y2="163.9" stroke="#2c8288" stroke-width="5.5" stroke-linecap="round"/><line x1="415" y1="151.3" x2="406.4" y2="163.9" stroke="#4aaeb2" stroke-width="4.5" stroke-linecap="round"/>
<line x1="406.4" y1="163.9" x2="414" y2="189" stroke="#2c8288" stroke-width="5.5" stroke-linecap="round"/><line x1="406.4" y1="163.9" x2="414" y2="189" stroke="#4aaeb2" stroke-width="4.5" stroke-linecap="round"/>
<line x1="414" y1="189" x2="431.8" y2="202.8" stroke="#2c8288" stroke-width="5.5" stroke-linecap="round"/><line x1="414" y1="189" x2="431.8" y2="202.8" stroke="#4aaeb2" stroke-width="4.5" stroke-linecap="round"/>
<circle cx="391.6" cy="157.6" r="5.6" fill="#4fb3b7" stroke="#2c8288" stroke-width="0.8"/><circle cx="389.9" cy="155.6" r="2.2" fill="#a6e3e5" opacity="0.7"/>
<circle cx="415" cy="151.3" r="5.6" fill="#4fb3b7" stroke="#2c8288" stroke-width="0.8"/><circle cx="413.3" cy="149.3" r="2.2" fill="#a6e3e5" opacity="0.7"/>
<circle cx="406.4" cy="163.9" r="6" fill="#4fb3b7" stroke="#2c8288" stroke-width="0.8"/><circle cx="404.6" cy="161.8" r="2.4" fill="#a6e3e5" opacity="0.7"/>
<circle cx="414" cy="189" r="7.3" fill="#4fb3b7" stroke="#2c8288" stroke-width="0.8"/><circle cx="411.8" cy="186.4" r="2.9" fill="#a6e3e5" opacity="0.7"/>
<circle cx="431.8" cy="202.8" r="8" fill="#4fb3b7" stroke="#2c8288" stroke-width="0.8"/><circle cx="429.4" cy="200.0" r="3.2" fill="#a6e3e5" opacity="0.7"/>
<line x1="625.9" y1="220.4" x2="636.6" y2="185.6" stroke="#2c8288" stroke-width="5" stroke-linecap="round"/><line x1="625.9" y1="220.4" x2="636.6" y2="185.6" stroke="#4aaeb2" stroke-width="4" stroke-linecap="round"/>
<line x1="636.6" y1="185.6" x2="658" y2="183" stroke="#2c8288" stroke-width="4.5" stroke-linecap="round"/><line x1="636.6" y1="185.6" x2="658" y2="183" stroke="#4aaeb2" stroke-width="3.5" stroke-linecap="round"/>
<line x1="658" y1="183" x2="668.7" y2="175.8" stroke="#2c8288" stroke-width="4.5" stroke-linecap="round"/><line x1="658" y1="183" x2="668.7" y2="175.8" stroke="#4aaeb2" stroke-width="3.5" stroke-linecap="round"/>
<line x1="658" y1="183" x2="666.9" y2="188.3" stroke="#2c8288" stroke-width="4.5" stroke-linecap="round"/><line x1="658" y1="183" x2="666.9" y2="188.3" stroke="#4aaeb2" stroke-width="3.5" stroke-linecap="round"/>
<circle cx="636.6" cy="185.6" r="6" fill="#4fb3b7" stroke="#2c8288" stroke-width="0.8"/><circle cx="634.8" cy="183.5" r="2.4" fill="#a6e3e5" opacity="0.7"/>
<circle cx="658" cy="183" r="4.5" fill="#4fb3b7" stroke="#2c8288" stroke-width="0.8"/><circle cx="656.6" cy="181.4" r="1.8" fill="#a6e3e5" opacity="0.7"/>
<circle cx="668.7" cy="175.8" r="4.8" fill="#4fb3b7" stroke="#2c8288" stroke-width="0.8"/><circle cx="667.3" cy="174.1" r="1.9" fill="#a6e3e5" opacity="0.7"/>
<circle cx="666.9" cy="188.3" r="4.5" fill="#4fb3b7" stroke="#2c8288" stroke-width="0.8"/><circle cx="665.5" cy="186.7" r="1.8" fill="#a6e3e5" opacity="0.7"/>
<line x1="613.8" y1="383.6" x2="653.2" y2="374.5" stroke="#2c8288" stroke-width="4.2" stroke-linecap="round"/><line x1="613.8" y1="383.6" x2="653.2" y2="374.5" stroke="#4aaeb2" stroke-width="3.2" stroke-linecap="round"/>
<line x1="653.2" y1="374.5" x2="668" y2="392" stroke="#2c8288" stroke-width="4.2" stroke-linecap="round"/><line x1="653.2" y1="374.5" x2="668" y2="392" stroke="#4aaeb2" stroke-width="3.2" stroke-linecap="round"/>
<line x1="668" y1="392" x2="692.7" y2="380.5" stroke="#2c8288" stroke-width="4.2" stroke-linecap="round"/><line x1="668" y1="392" x2="692.7" y2="380.5" stroke="#4aaeb2" stroke-width="3.2" stroke-linecap="round"/>
<line x1="668" y1="392" x2="674.5" y2="404.8" stroke="#2c8288" stroke-width="4.2" stroke-linecap="round"/><line x1="668" y1="392" x2="674.5" y2="404.8" stroke="#4aaeb2" stroke-width="3.2" stroke-linecap="round"/>
<circle cx="613.8" cy="383.6" r="5.5" fill="#3e9fa4" stroke="#2c8288" stroke-width="0.8"/><circle cx="612.1" cy="381.7" r="2.2" fill="#a6e3e5" opacity="0.7"/>
<circle cx="653.2" cy="374.5" r="6" fill="#3e9fa4" stroke="#2c8288" stroke-width="0.8"/><circle cx="651.4" cy="372.4" r="2.4" fill="#a6e3e5" opacity="0.7"/>
<circle cx="674.5" cy="404.8" r="5" fill="#3e9fa4" stroke="#2c8288" stroke-width="0.8"/><circle cx="673.0" cy="403.1" r="2.0" fill="#a6e3e5" opacity="0.7"/>
<circle cx="692.7" cy="380.5" r="5.5" fill="#6fd0d3" stroke="#2c8288" stroke-width="0.8"/><circle cx="691.1" cy="378.6" r="2.2" fill="#a6e3e5" opacity="0.7"/>
</g>
<g filter="url(#bl3)" opacity="0.35"><line x1="840" y1="272" x2="708" y2="369" stroke="#000" stroke-width="3"/><path d="M716,350 L703,371 L730,368" fill="none" stroke="#000" stroke-width="7" stroke-linecap="round" stroke-linejoin="round"/></g>
<line x1="838.6" y1="268.6" x2="706" y2="366" stroke="#000" stroke-width="2.2"/>
<path d="M715.5,348.5 L702.5,369.5 L729.5,365.5" fill="none" stroke="#000" stroke-width="6.5" stroke-linecap="round" stroke-linejoin="round"/>
<text x="834" y="257.9" font-size="53" style="font-family:'Noto Sans CJK JP','Liberation Sans',sans-serif">N130</text>
<text x="-1" y="45" font-size="48">a.</text>
<text x="1068.5" y="45" font-size="48">b.</text>
<text x="-1" y="713.5" font-size="48">c.</text>
<text x="1101" y="733.4" font-size="48">d.</text>
<line x1="1300" y1="202" x2="2069" y2="202" stroke="#000" stroke-width="3" stroke-linecap="round" stroke-dasharray="0 5.3"/>
<line x1="1295.3" y1="109.53999999999996" x2="1295.3" y2="638.2" stroke="#000" stroke-width="5.2"/>
<line x1="1279" y1="635.6" x2="1295.3" y2="635.6" stroke="#000" stroke-width="4.8"/>
<text x="1277" y="649.2" font-size="40" text-anchor="end">0</text>
<line x1="1279" y1="548.3" x2="1295.3" y2="548.3" stroke="#000" stroke-width="4.8"/>
<text x="1277" y="561.9" font-size="40" text-anchor="end">20</text>
<line x1="1279" y1="461.1" x2="1295.3" y2="461.1" stroke="#000" stroke-width="4.8"/>
<text x="1277" y="474.7" font-size="40" text-anchor="end">40</text>
<line x1="1279" y1="373.8" x2="1295.3" y2="373.8" stroke="#000" stroke-width="4.8"/>
<text x="1277" y="387.4" font-size="40" text-anchor="end">60</text>
<line x1="1279" y1="286.6" x2="1295.3" y2="286.6" stroke="#000" stroke-width="4.8"/>
<text x="1277" y="300.2" font-size="40" text-anchor="end">80</text>
<line x1="1279" y1="199.3" x2="1295.3" y2="199.3" stroke="#000" stroke-width="4.8"/>
<text x="1277" y="212.9" font-size="40" text-anchor="end"><tspan style="font-family:NanumGothic;letter-spacing:-0.05em" stroke="#000" stroke-width="0.7">1</tspan>00</text>
<line x1="1279" y1="112" x2="1295.3" y2="112" stroke="#000" stroke-width="4.8"/>
<text x="1277" y="125.6" font-size="40" text-anchor="end"><tspan style="font-family:NanumGothic;letter-spacing:-0.05em" stroke="#000" stroke-width="0.7">1</tspan>20</text>
<line x1="1279" y1="635.6" x2="2080.5" y2="635.6" stroke="#000" stroke-width="5"/>
<path d="M1321.7,635.6 L1321.7,199.3 L1426.3,199.3 L1426.3,635.6" fill="none" stroke="#000000" stroke-width="7.5" stroke-linejoin="round"/>
<line x1="1531" y1="162.2" x2="1531" y2="154.4" stroke="#0f9252" stroke-width="2.2"/>
<line x1="1503.5" y1="154.4" x2="1558.5" y2="154.4" stroke="#0f9252" stroke-width="2.3" stroke-linecap="round"/>
<path d="M1478.7,635.6 L1478.7,162.2 L1583.3,162.2 L1583.3,635.6" fill="none" stroke="#0f9252" stroke-width="7.5" stroke-linejoin="round"/>
<line x1="1687.8" y1="238.6" x2="1687.8" y2="221.1" stroke="#0b559b" stroke-width="2.2"/>
<line x1="1660.3" y1="221.1" x2="1715.3" y2="221.1" stroke="#0b559b" stroke-width="2.3" stroke-linecap="round"/>
<path d="M1635.5,635.6 L1635.5,238.6 L1740.1,238.6 L1740.1,635.6" fill="none" stroke="#0b559b" stroke-width="7.5" stroke-linejoin="round"/>
<line x1="1845" y1="240.3" x2="1845" y2="220.2" stroke="#991a52" stroke-width="2.2"/>
<line x1="1817.5" y1="220.2" x2="1872.5" y2="220.2" stroke="#991a52" stroke-width="2.3" stroke-linecap="round"/>
<path d="M1792.7,635.6 L1792.7,240.3 L1897.3,240.3 L1897.3,635.6" fill="none" stroke="#991a52" stroke-width="7.5" stroke-linejoin="round"/>
<line x1="2002" y1="283.9" x2="2002" y2="277" stroke="#571c98" stroke-width="2.2"/>
<line x1="1974.5" y1="277" x2="2029.5" y2="277" stroke="#571c98" stroke-width="2.3" stroke-linecap="round"/>
<path d="M1949.7,635.6 L1949.7,283.9 L2054.3,283.9 L2054.3,635.6" fill="none" stroke="#571c98" stroke-width="7.5" stroke-linejoin="round"/>
<line x1="1279" y1="635.6" x2="2080.5" y2="635.6" stroke="#000" stroke-width="5"/>
<text transform="translate(1180.2,372.5) rotate(-90)" font-size="44" text-anchor="middle" textLength="359.5" lengthAdjust="spacingAndGlyphs">Expression (%WT)</text>
<line x1="240" y1="1207.3" x2="1020" y2="1207.3" stroke="#000" stroke-width="4.8" stroke-linecap="round" stroke-dasharray="0 10.45"/>
<line x1="232.6" y1="771.1" x2="232.6" y2="1224.3" stroke="#000" stroke-width="5.4"/>
<line x1="217.4" y1="1207.3" x2="232.6" y2="1207.3" stroke="#000" stroke-width="5.2"/>
<text x="214.6" y="1220.9" font-size="40" text-anchor="end">0</text>
<line x1="217.4" y1="1135.0" x2="232.6" y2="1135.0" stroke="#000" stroke-width="5.2"/>
<text x="214.6" y="1148.6" font-size="40" text-anchor="end">20</text>
<line x1="217.4" y1="1062.7" x2="232.6" y2="1062.7" stroke="#000" stroke-width="5.2"/>
<text x="214.6" y="1076.3" font-size="40" text-anchor="end">40</text>
<line x1="217.4" y1="990.4" x2="232.6" y2="990.4" stroke="#000" stroke-width="5.2"/>
<text x="214.6" y="1004.0" font-size="40" text-anchor="end">60</text>
<line x1="217.4" y1="918.1" x2="232.6" y2="918.1" stroke="#000" stroke-width="5.2"/>
<text x="214.6" y="931.7" font-size="40" text-anchor="end">80</text>
<line x1="217.4" y1="845.8" x2="232.6" y2="845.8" stroke="#000" stroke-width="5.2"/>
<text x="214.6" y="859.4" font-size="40" text-anchor="end"><tspan style="font-family:NanumGothic;letter-spacing:-0.05em" stroke="#000" stroke-width="0.7">1</tspan>00</text>
<line x1="217.4" y1="773.5" x2="232.6" y2="773.5" stroke="#000" stroke-width="5.2"/>
<text x="214.6" y="787.1" font-size="40" text-anchor="end"><tspan style="font-family:NanumGothic;letter-spacing:-0.05em" stroke="#000" stroke-width="0.7">1</tspan>20</text>
<line x1="304.8" y1="1296.8" x2="383.3" y2="1296.8" stroke="#000" stroke-width="5.4"/>
<line x1="380.6" y1="1286.3" x2="380.6" y2="1307.2" stroke="#000" stroke-width="5.2"/>
<line x1="342.8" y1="1296.8" x2="342.8" y2="1312.4" stroke="#000" stroke-width="5.2"/>
<line x1="426.1" y1="1286.3" x2="426.1" y2="1307.2" stroke="#000" stroke-width="5.4"/>
<line x1="426.1" y1="1296.8" x2="1019.7" y2="1296.8" stroke="#000" stroke-width="5.4"/>
<line x1="491.8" y1="1296.8" x2="491.8" y2="1312.4" stroke="#000" stroke-width="5.2"/>
<text x="489.8" y="1351.6" font-size="40" text-anchor="middle">-<tspan style="font-family:NanumGothic;letter-spacing:-0.05em" stroke="#000" stroke-width="0.7">1</tspan><tspan style="font-family:NanumGothic;letter-spacing:-0.05em" stroke="#000" stroke-width="0.7">1</tspan></text>
<line x1="623.1" y1="1296.8" x2="623.1" y2="1312.4" stroke="#000" stroke-width="5.2"/>
<text x="621.1" y="1351.6" font-size="40" text-anchor="middle">-<tspan style="font-family:NanumGothic;letter-spacing:-0.05em" stroke="#000" stroke-width="0.7">1</tspan>0</text>
<line x1="754.4" y1="1296.8" x2="754.4" y2="1312.4" stroke="#000" stroke-width="5.2"/>
<text x="752.4" y="1351.6" font-size="40" text-anchor="middle">-9</text>
<line x1="885.7" y1="1296.8" x2="885.7" y2="1312.4" stroke="#000" stroke-width="5.2"/>
<text x="883.7" y="1351.6" font-size="40" text-anchor="middle">-8</text>
<line x1="1017.0" y1="1296.8" x2="1017.0" y2="1312.4" stroke="#000" stroke-width="5.2"/>
<text x="1015.0" y="1351.6" font-size="40" text-anchor="middle">-7</text>
<text x="343.3" y="1355.7" font-size="40" text-anchor="middle">V</text>
<text transform="translate(83.2,998.2) rotate(-90)" font-size="44" text-anchor="middle" textLength="369" lengthAdjust="spacingAndGlyphs">% Specific Binding</text>
<text x="661.8" y="1420.8" font-size="44" text-anchor="middle" textLength="230.5" lengthAdjust="spacingAndGlyphs">Log [sCT] M</text>
<path d="M426.1,844.7 L429.8,844.7 L433.5,844.8 L437.2,844.8 L440.9,844.9 L444.6,845.0 L448.3,845.0 L452.0,845.1 L455.7,845.2 L459.4,845.3 L463.1,845.3 L466.8,845.4 L470.5,845.5 L474.2,845.6 L477.8,845.7 L481.5,845.8 L485.2,846.0 L488.9,846.1 L492.6,846.2 L496.3,846.4 L500.0,846.6 L503.7,846.7 L507.4,846.9 L511.1,847.1 L514.8,847.3 L518.5,847.5 L522.2,847.8 L525.9,848.0 L529.5,848.3 L533.2,848.6 L536.9,848.9 L540.6,849.2 L544.3,849.5 L548.0,849.9 L551.7,850.3 L555.4,850.7 L559.1,851.1 L562.8,851.6 L566.5,852.1 L570.2,852.6 L573.9,853.2 L577.6,853.8 L581.2,854.4 L584.9,855.1 L588.6,855.8 L592.3,856.6 L596.0,857.4 L599.7,858.2 L603.4,859.1 L607.1,860.1 L610.8,861.1 L614.5,862.2 L618.2,863.4 L621.9,864.6 L625.6,865.9 L629.3,867.3 L632.9,868.7 L636.6,870.2 L640.3,871.9 L644.0,873.6 L647.7,875.4 L651.4,877.3 L655.1,879.3 L658.8,881.4 L662.5,883.6 L666.2,885.9 L669.9,888.4 L673.6,891.0 L677.3,893.7 L681.0,896.5 L684.6,899.5 L688.3,902.6 L692.0,905.8 L695.7,909.2 L699.4,912.7 L703.1,916.4 L706.8,920.2 L710.5,924.1 L714.2,928.2 L717.9,932.4 L721.6,936.8 L725.3,941.3 L729.0,945.9 L732.7,950.7 L736.3,955.6 L740.0,960.6 L743.7,965.7 L747.4,970.9 L751.1,976.2 L754.8,981.7 L758.5,987.1 L762.2,992.7 L765.9,998.3 L769.6,1004.0 L773.3,1009.7 L777.0,1015.4 L780.7,1021.1 L784.4,1026.9 L788.0,1032.6 L791.7,1038.3 L795.4,1043.9 L799.1,1049.6 L802.8,1055.1 L806.5,1060.6 L810.2,1066.0 L813.9,1071.3 L817.6,1076.6 L821.3,1081.7 L825.0,1086.7 L828.7,1091.6 L832.4,1096.3 L836.1,1101.0 L839.7,1105.5 L843.4,1109.8 L847.1,1114.1 L850.8,1118.2 L854.5,1122.1 L858.2,1125.9 L861.9,1129.6 L865.6,1133.1 L869.3,1136.5 L873.0,1139.7 L876.7,1142.8 L880.4,1145.7 L884.1,1148.6 L887.8,1151.3 L891.4,1153.9 L895.1,1156.3 L898.8,1158.6 L902.5,1160.9 L906.2,1163.0 L909.9,1165.0 L913.6,1166.9 L917.3,1168.7 L921.0,1170.4 L924.7,1172.0 L928.4,1173.5 L932.1,1175.0 L935.8,1176.4 L939.5,1177.7 L943.1,1178.9 L946.8,1180.0 L950.5,1181.1 L954.2,1182.1 L957.9,1183.1 L961.6,1184.0 L965.3,1184.9 L969.0,1185.7 L972.7,1186.5 L976.4,1187.2 L980.1,1187.8 L983.8,1188.5 L987.5,1189.1 L991.2,1189.6 L994.8,1190.2 L998.5,1190.7 L1002.2,1191.1 L1005.9,1191.6 L1009.6,1192.0 L1013.3,1192.4 L1017.0,1192.7" fill="none" stroke="#571c98" stroke-width="5" stroke-dasharray="14.6 11" stroke-linecap="round"/>
<path d="M426.1,846.6 L429.8,846.7 L433.5,846.8 L437.2,846.8 L440.9,846.9 L444.6,847.0 L448.3,847.0 L452.0,847.1 L455.7,847.2 L459.4,847.3 L463.1,847.4 L466.8,847.5 L470.5,847.6 L474.2,847.8 L477.8,847.9 L481.5,848.0 L485.2,848.2 L488.9,848.3 L492.6,848.5 L496.3,848.7 L500.0,848.9 L503.7,849.1 L507.4,849.3 L511.1,849.5 L514.8,849.8 L518.5,850.0 L522.2,850.3 L525.9,850.6 L529.5,850.9 L533.2,851.2 L536.9,851.6 L540.6,852.0 L544.3,852.4 L548.0,852.8 L551.7,853.3 L555.4,853.8 L559.1,854.3 L562.8,854.8 L566.5,855.4 L570.2,856.1 L573.9,856.7 L577.6,857.4 L581.2,858.2 L584.9,859.0 L588.6,859.8 L592.3,860.7 L596.0,861.7 L599.7,862.7 L603.4,863.8 L607.1,864.9 L610.8,866.1 L614.5,867.4 L618.2,868.7 L621.9,870.2 L625.6,871.7 L629.3,873.3 L632.9,874.9 L636.6,876.7 L640.3,878.6 L644.0,880.6 L647.7,882.7 L651.4,884.9 L655.1,887.2 L658.8,889.6 L662.5,892.1 L666.2,894.8 L669.9,897.6 L673.6,900.5 L677.3,903.6 L681.0,906.8 L684.6,910.1 L688.3,913.6 L692.0,917.2 L695.7,921.0 L699.4,924.9 L703.1,928.9 L706.8,933.1 L710.5,937.4 L714.2,941.9 L717.9,946.5 L721.6,951.2 L725.3,956.0 L729.0,961.0 L732.7,966.1 L736.3,971.3 L740.0,976.5 L743.7,981.9 L747.4,987.4 L751.1,992.9 L754.8,998.5 L758.5,1004.1 L762.2,1009.8 L765.9,1015.4 L769.6,1021.1 L773.3,1026.8 L777.0,1032.5 L780.7,1038.2 L784.4,1043.9 L788.0,1049.5 L791.7,1055.0 L795.4,1060.5 L799.1,1065.9 L802.8,1071.2 L806.5,1076.4 L810.2,1081.5 L813.9,1086.5 L817.6,1091.4 L821.3,1096.1 L825.0,1100.8 L828.7,1105.3 L832.4,1109.6 L836.1,1113.9 L839.7,1117.9 L843.4,1121.9 L847.1,1125.7 L850.8,1129.4 L854.5,1132.9 L858.2,1136.3 L861.9,1139.5 L865.6,1142.6 L869.3,1145.6 L873.0,1148.4 L876.7,1151.1 L880.4,1153.7 L884.1,1156.2 L887.8,1158.5 L891.4,1160.7 L895.1,1162.8 L898.8,1164.9 L902.5,1166.8 L906.2,1168.6 L909.9,1170.3 L913.6,1171.9 L917.3,1173.4 L921.0,1174.9 L924.7,1176.3 L928.4,1177.6 L932.1,1178.8 L935.8,1180.0 L939.5,1181.0 L943.1,1182.1 L946.8,1183.0 L950.5,1184.0 L954.2,1184.8 L957.9,1185.6 L961.6,1186.4 L965.3,1187.1 L969.0,1187.8 L972.7,1188.4 L976.4,1189.0 L980.1,1189.6 L983.8,1190.1 L987.5,1190.6 L991.2,1191.1 L994.8,1191.5 L998.5,1192.0 L1002.2,1192.3 L1005.9,1192.7 L1009.6,1193.1 L1013.3,1193.4 L1017.0,1193.7" fill="none" stroke="#991a52" stroke-width="5" stroke-dasharray="14.6 11" stroke-linecap="round"/>
<path d="M426.1,848.0 L429.8,848.1 L433.5,848.3 L437.2,848.4 L440.9,848.6 L444.6,848.8 L448.3,849.0 L452.0,849.2 L455.7,849.4 L459.4,849.7 L463.1,849.9 L466.8,850.2 L470.5,850.5 L474.2,850.8 L477.8,851.1 L481.5,851.4 L485.2,851.8 L488.9,852.2 L492.6,852.6 L496.3,853.1 L500.0,853.6 L503.7,854.1 L507.4,854.6 L511.1,855.2 L514.8,855.8 L518.5,856.4 L522.2,857.1 L525.9,857.9 L529.5,858.6 L533.2,859.5 L536.9,860.3 L540.6,861.3 L544.3,862.3 L548.0,863.3 L551.7,864.4 L555.4,865.6 L559.1,866.8 L562.8,868.2 L566.5,869.5 L570.2,871.0 L573.9,872.6 L577.6,874.2 L581.2,876.0 L584.9,877.8 L588.6,879.7 L592.3,881.8 L596.0,883.9 L599.7,886.2 L603.4,888.6 L607.1,891.0 L610.8,893.7 L614.5,896.4 L618.2,899.3 L621.9,902.3 L625.6,905.4 L629.3,908.7 L632.9,912.1 L636.6,915.7 L640.3,919.4 L644.0,923.2 L647.7,927.2 L651.4,931.3 L655.1,935.6 L658.8,940.0 L662.5,944.5 L666.2,949.2 L669.9,954.0 L673.6,958.9 L677.3,963.9 L681.0,969.1 L684.6,974.3 L688.3,979.6 L692.0,985.1 L695.7,990.5 L699.4,996.1 L703.1,1001.7 L706.8,1007.4 L710.5,1013.0 L714.2,1018.7 L717.9,1024.4 L721.6,1030.1 L725.3,1035.8 L729.0,1041.5 L732.7,1047.1 L736.3,1052.7 L740.0,1058.2 L743.7,1063.6 L747.4,1068.9 L751.1,1074.2 L754.8,1079.3 L758.5,1084.4 L762.2,1089.3 L765.9,1094.1 L769.6,1098.8 L773.3,1103.4 L777.0,1107.8 L780.7,1112.1 L784.4,1116.2 L788.0,1120.2 L791.7,1124.1 L795.4,1127.8 L799.1,1131.4 L802.8,1134.8 L806.5,1138.1 L810.2,1141.3 L813.9,1144.3 L817.6,1147.2 L821.3,1150.0 L825.0,1152.6 L828.7,1155.1 L832.4,1157.5 L836.1,1159.8 L839.7,1162.0 L843.4,1164.0 L847.1,1166.0 L850.8,1167.8 L854.5,1169.6 L858.2,1171.2 L861.9,1172.8 L865.6,1174.3 L869.3,1175.7 L873.0,1177.0 L876.7,1178.3 L880.4,1179.5 L884.1,1180.6 L887.8,1181.6 L891.4,1182.6 L895.1,1183.6 L898.8,1184.5 L902.5,1185.3 L906.2,1186.1 L909.9,1186.8 L913.6,1187.5 L917.3,1188.2 L921.0,1188.8 L924.7,1189.4 L928.4,1189.9 L932.1,1190.4 L935.8,1190.9 L939.5,1191.4 L943.1,1191.8 L946.8,1192.2 L950.5,1192.6 L954.2,1192.9 L957.9,1193.2 L961.6,1193.6 L965.3,1193.8 L969.0,1194.1 L972.7,1194.4 L976.4,1194.6 L980.1,1194.8 L983.8,1195.1 L987.5,1195.3 L991.2,1195.4 L994.8,1195.6 L998.5,1195.8 L1002.2,1195.9 L1005.9,1196.1 L1009.6,1196.2 L1013.3,1196.3 L1017.0,1196.5" fill="none" stroke="#0b559b" stroke-width="5" stroke-dasharray="14.6 11" stroke-linecap="round"/>
<path d="M426.1,852.7 L429.8,853.0 L433.5,853.3 L437.2,853.7 L440.9,854.1 L444.6,854.5 L448.3,855.0 L452.0,855.5 L455.7,856.0 L459.4,856.5 L463.1,857.1 L466.8,857.7 L470.5,858.4 L474.2,859.1 L477.8,859.8 L481.5,860.6 L485.2,861.5 L488.9,862.4 L492.6,863.3 L496.3,864.3 L500.0,865.4 L503.7,866.5 L507.4,867.7 L511.1,868.9 L514.8,870.3 L518.5,871.7 L522.2,873.2 L525.9,874.8 L529.5,876.4 L533.2,878.2 L536.9,880.1 L540.6,882.0 L544.3,884.1 L548.0,886.3 L551.7,888.6 L555.4,891.0 L559.1,893.5 L562.8,896.1 L566.5,898.9 L570.2,901.8 L573.9,904.9 L577.6,908.0 L581.2,911.4 L584.9,914.8 L588.6,918.4 L592.3,922.1 L596.0,926.0 L599.7,930.1 L603.4,934.2 L607.1,938.5 L610.8,943.0 L614.5,947.6 L618.2,952.3 L621.9,957.1 L625.6,962.1 L629.3,967.1 L632.9,972.3 L636.6,977.6 L640.3,983.0 L644.0,988.4 L647.7,994.0 L651.4,999.6 L655.1,1005.2 L658.8,1010.9 L662.5,1016.6 L666.2,1022.3 L669.9,1028.1 L673.6,1033.8 L677.3,1039.5 L681.0,1045.2 L684.6,1050.8 L688.3,1056.4 L692.0,1061.9 L695.7,1067.4 L699.4,1072.7 L703.1,1078.0 L706.8,1083.1 L710.5,1088.2 L714.2,1093.1 L717.9,1098.0 L721.6,1102.7 L725.3,1107.2 L729.0,1111.6 L732.7,1115.9 L736.3,1120.1 L740.0,1124.1 L743.7,1127.9 L747.4,1131.6 L751.1,1135.2 L754.8,1138.7 L758.5,1142.0 L762.2,1145.1 L765.9,1148.1 L769.6,1151.0 L773.3,1153.8 L777.0,1156.4 L780.7,1158.9 L784.4,1161.3 L788.0,1163.6 L791.7,1165.7 L795.4,1167.8 L799.1,1169.7 L802.8,1171.6 L806.5,1173.3 L810.2,1175.0 L813.9,1176.5 L817.6,1178.0 L821.3,1179.4 L825.0,1180.7 L828.7,1182.0 L832.4,1183.2 L836.1,1184.3 L839.7,1185.3 L843.4,1186.3 L847.1,1187.3 L850.8,1188.1 L854.5,1189.0 L858.2,1189.8 L861.9,1190.5 L865.6,1191.2 L869.3,1191.8 L873.0,1192.4 L876.7,1193.0 L880.4,1193.6 L884.1,1194.1 L887.8,1194.6 L891.4,1195.0 L895.1,1195.4 L898.8,1195.8 L902.5,1196.2 L906.2,1196.6 L909.9,1196.9 L913.6,1197.2 L917.3,1197.5 L921.0,1197.8 L924.7,1198.0 L928.4,1198.2 L932.1,1198.5 L935.8,1198.7 L939.5,1198.9 L943.1,1199.1 L946.8,1199.2 L950.5,1199.4 L954.2,1199.6 L957.9,1199.7 L961.6,1199.8 L965.3,1200.0 L969.0,1200.1 L972.7,1200.2 L976.4,1200.3 L980.1,1200.4 L983.8,1200.5 L987.5,1200.6 L991.2,1200.7 L994.8,1200.7 L998.5,1200.8 L1002.2,1200.9 L1005.9,1200.9 L1009.6,1201.0 L1013.3,1201.1 L1017.0,1201.1" fill="none" stroke="#0f9252" stroke-width="5" stroke-dasharray="14.6 11" stroke-linecap="round"/>
<path d="M426.1,852.2 L429.8,852.5 L433.5,852.8 L437.2,853.2 L440.9,853.5 L444.6,853.9 L448.3,854.3 L452.0,854.8 L455.7,855.3 L459.4,855.8 L463.1,856.3 L466.8,856.9 L470.5,857.5 L474.2,858.1 L477.8,858.8 L481.5,859.5 L485.2,860.3 L488.9,861.1 L492.6,861.9 L496.3,862.9 L500.0,863.8 L503.7,864.9 L507.4,866.0 L511.1,867.1 L514.8,868.3 L518.5,869.6 L522.2,871.0 L525.9,872.5 L529.5,874.0 L533.2,875.6 L536.9,877.4 L540.6,879.2 L544.3,881.1 L548.0,883.1 L551.7,885.2 L555.4,887.5 L559.1,889.8 L562.8,892.3 L566.5,894.9 L570.2,897.6 L573.9,900.4 L577.6,903.4 L581.2,906.5 L584.9,909.7 L588.6,913.1 L592.3,916.7 L596.0,920.3 L599.7,924.1 L603.4,928.1 L607.1,932.2 L610.8,936.4 L614.5,940.8 L618.2,945.3 L621.9,949.9 L625.6,954.7 L629.3,959.6 L632.9,964.6 L636.6,969.7 L640.3,975.0 L644.0,980.3 L647.7,985.7 L651.4,991.2 L655.1,996.7 L658.8,1002.3 L662.5,1008.0 L666.2,1013.7 L669.9,1019.4 L673.6,1025.1 L677.3,1030.8 L681.0,1036.5 L684.6,1042.2 L688.3,1047.8 L692.0,1053.4 L695.7,1058.9 L699.4,1064.4 L703.1,1069.8 L706.8,1075.1 L710.5,1080.3 L714.2,1085.4 L717.9,1090.3 L721.6,1095.2 L725.3,1099.9 L729.0,1104.5 L732.7,1109.0 L736.3,1113.3 L740.0,1117.5 L743.7,1121.6 L747.4,1125.5 L751.1,1129.2 L754.8,1132.9 L758.5,1136.3 L762.2,1139.7 L765.9,1142.9 L769.6,1146.0 L773.3,1148.9 L777.0,1151.7 L780.7,1154.4 L784.4,1156.9 L788.0,1159.3 L791.7,1161.7 L795.4,1163.9 L799.1,1165.9 L802.8,1167.9 L806.5,1169.8 L810.2,1171.6 L813.9,1173.3 L817.6,1174.9 L821.3,1176.4 L825.0,1177.8 L828.7,1179.2 L832.4,1180.4 L836.1,1181.7 L839.7,1182.8 L843.4,1183.9 L847.1,1184.9 L850.8,1185.8 L854.5,1186.7 L858.2,1187.6 L861.9,1188.4 L865.6,1189.1 L869.3,1189.8 L873.0,1190.5 L876.7,1191.1 L880.4,1191.7 L884.1,1192.3 L887.8,1192.8 L891.4,1193.3 L895.1,1193.8 L898.8,1194.2 L902.5,1194.6 L906.2,1195.0 L909.9,1195.3 L913.6,1195.7 L917.3,1196.0 L921.0,1196.3 L924.7,1196.6 L928.4,1196.8 L932.1,1197.1 L935.8,1197.3 L939.5,1197.5 L943.1,1197.7 L946.8,1197.9 L950.5,1198.1 L954.2,1198.3 L957.9,1198.4 L961.6,1198.6 L965.3,1198.7 L969.0,1198.8 L972.7,1199.0 L976.4,1199.1 L980.1,1199.2 L983.8,1199.3 L987.5,1199.4 L991.2,1199.5 L994.8,1199.5 L998.5,1199.6 L1002.2,1199.7 L1005.9,1199.8 L1009.6,1199.8 L1013.3,1199.9 L1017.0,1199.9" fill="none" stroke="#000" stroke-width="6.2" stroke-linecap="round"/>
<line x1="345" y1="847" x2="380.5" y2="847" stroke="#000" stroke-width="6.2" stroke-linecap="round"/>
<line x1="754.4" y1="981.0" x2="754.4" y2="952.8" stroke="#000" stroke-width="4.6"/>
<line x1="736.9" y1="952.8" x2="771.9" y2="952.8" stroke="#000" stroke-width="4.8" stroke-linecap="round"/>
<line x1="885.7" y1="1126.3" x2="885.7" y2="1099.9" stroke="#000" stroke-width="4.6"/>
<line x1="868.2" y1="1099.9" x2="903.2" y2="1099.9" stroke="#000" stroke-width="4.8" stroke-linecap="round"/>
<line x1="754.4" y1="1086.2" x2="754.4" y2="1070.7" stroke="#000" stroke-width="4.6"/>
<line x1="743.4" y1="1070.7" x2="765.4" y2="1070.7" stroke="#000" stroke-width="4.8" stroke-linecap="round"/>
<circle cx="342.8" cy="840.4" r="15.3" fill="#571c98" stroke="#000" stroke-width="4.6"/>
<circle cx="491.8" cy="837.5" r="15.3" fill="#571c98" stroke="#000" stroke-width="4.6"/>
<circle cx="623.1" cy="855.6" r="15.3" fill="#571c98" stroke="#000" stroke-width="4.6"/>
<circle cx="754.4" cy="981.0" r="15.3" fill="#571c98" stroke="#000" stroke-width="4.6"/>
<circle cx="885.7" cy="1126.3" r="15.3" fill="#571c98" stroke="#000" stroke-width="4.6"/>
<circle cx="1017.0" cy="1198.3" r="15.3" fill="#571c98" stroke="#000" stroke-width="4.6"/>
<circle cx="342.8" cy="839.7" r="15.3" fill="#0b559b" stroke="#000" stroke-width="4.6"/>
<circle cx="491.8" cy="849.4" r="15.3" fill="#0b559b" stroke="#000" stroke-width="4.6"/>
<circle cx="623.1" cy="883.4" r="15.3" fill="#0b559b" stroke="#000" stroke-width="4.6"/>
<circle cx="754.4" cy="1086.2" r="15.3" fill="#0b559b" stroke="#000" stroke-width="4.6"/>
<circle cx="885.7" cy="1187.4" r="15.3" fill="#0b559b" stroke="#000" stroke-width="4.6"/>
<circle cx="1017.0" cy="1189.9" r="15.3" fill="#0b559b" stroke="#000" stroke-width="4.6"/>
<circle cx="342.8" cy="853.0" r="15.3" fill="#991a52" stroke="#000" stroke-width="4.6"/>
<circle cx="491.8" cy="849.4" r="15.3" fill="#991a52" stroke="#000" stroke-width="4.6"/>
<circle cx="623.1" cy="863.2" r="15.3" fill="#991a52" stroke="#000" stroke-width="4.6"/>
<circle cx="754.4" cy="990.4" r="15.3" fill="#991a52" stroke="#000" stroke-width="4.6"/>
<circle cx="885.7" cy="1161.8" r="15.3" fill="#991a52" stroke="#000" stroke-width="4.6"/>
<circle cx="1017.0" cy="1200.1" r="15.3" fill="#991a52" stroke="#000" stroke-width="4.6"/>
<circle cx="342.8" cy="846.9" r="15.3" fill="#0f9252" stroke="#000" stroke-width="4.6"/>
<circle cx="491.8" cy="848.0" r="15.3" fill="#0f9252" stroke="#000" stroke-width="4.6"/>
<circle cx="623.1" cy="958.9" r="15.3" fill="#0f9252" stroke="#000" stroke-width="4.6"/>
<circle cx="754.4" cy="1148.4" r="15.3" fill="#0f9252" stroke="#000" stroke-width="4.6"/>
<circle cx="885.7" cy="1194.6" r="15.3" fill="#0f9252" stroke="#000" stroke-width="4.6"/>
<circle cx="1017.0" cy="1203.7" r="15.3" fill="#0f9252" stroke="#000" stroke-width="4.6"/>
<circle cx="342.8" cy="868.9" r="15.3" fill="#000000" stroke="#000" stroke-width="4.6"/>
<circle cx="491.8" cy="862.1" r="15.3" fill="#000000" stroke="#000" stroke-width="4.6"/>
<circle cx="623.1" cy="965.1" r="15.3" fill="#000000" stroke="#000" stroke-width="4.6"/>
<circle cx="754.4" cy="1112.9" r="15.3" fill="#000000" stroke="#000" stroke-width="4.6"/>
<circle cx="885.7" cy="1192.5" r="15.3" fill="#000000" stroke="#000" stroke-width="4.6"/>
<circle cx="1017.0" cy="1206.9" r="15.3" fill="#000000" stroke="#000" stroke-width="4.6"/>
<line x1="1303" y1="1224.0" x2="2073" y2="1224.0" stroke="#000" stroke-width="4.8" stroke-linecap="round" stroke-dasharray="0 10.45"/>
<line x1="1295.2" y1="771.1" x2="1295.2" y2="1226.6" stroke="#000" stroke-width="5.4"/>
<line x1="1279.7" y1="1224.0" x2="1295.2" y2="1224.0" stroke="#000" stroke-width="5.2"/>
<text x="1277" y="1237.6" font-size="40" text-anchor="end">0</text>
<line x1="1279.7" y1="1148.9" x2="1295.2" y2="1148.9" stroke="#000" stroke-width="5.2"/>
<text x="1248" y="1164.4" font-size="40" text-anchor="end"><tspan style="font-family:NanumGothic;letter-spacing:-0.05em" stroke="#000" stroke-width="0.7">1</tspan>×<tspan style="font-family:NanumGothic;letter-spacing:-0.05em" stroke="#000" stroke-width="0.7">1</tspan>0</text>
<text x="1248" y="1149.4" font-size="29">-8</text>
<line x1="1279.7" y1="1073.8" x2="1295.2" y2="1073.8" stroke="#000" stroke-width="5.2"/>
<text x="1248" y="1089.3" font-size="40" text-anchor="end">2×<tspan style="font-family:NanumGothic;letter-spacing:-0.05em" stroke="#000" stroke-width="0.7">1</tspan>0</text>
<text x="1248" y="1074.3" font-size="29">-8</text>
<line x1="1279.7" y1="998.8" x2="1295.2" y2="998.8" stroke="#000" stroke-width="5.2"/>
<text x="1248" y="1014.3" font-size="40" text-anchor="end">3×<tspan style="font-family:NanumGothic;letter-spacing:-0.05em" stroke="#000" stroke-width="0.7">1</tspan>0</text>
<text x="1248" y="999.3" font-size="29">-8</text>
<line x1="1279.7" y1="923.7" x2="1295.2" y2="923.7" stroke="#000" stroke-width="5.2"/>
<text x="1248" y="939.2" font-size="40" text-anchor="end">4×<tspan style="font-family:NanumGothic;letter-spacing:-0.05em" stroke="#000" stroke-width="0.7">1</tspan>0</text>
<text x="1248" y="924.2" font-size="29">-8</text>
<line x1="1279.7" y1="848.6" x2="1295.2" y2="848.6" stroke="#000" stroke-width="5.2"/>
<text x="1248" y="864.1" font-size="40" text-anchor="end">5×<tspan style="font-family:NanumGothic;letter-spacing:-0.05em" stroke="#000" stroke-width="0.7">1</tspan>0</text>
<text x="1248" y="849.1" font-size="29">-8</text>
<line x1="1279.7" y1="773.5" x2="1295.2" y2="773.5" stroke="#000" stroke-width="5.2"/>
<text x="1248" y="789.0" font-size="40" text-anchor="end">6×<tspan style="font-family:NanumGothic;letter-spacing:-0.05em" stroke="#000" stroke-width="0.7">1</tspan>0</text>
<text x="1248" y="774.0" font-size="29">-8</text>
<line x1="1367.4" y1="1296.8" x2="1445.9" y2="1296.8" stroke="#000" stroke-width="5.4"/>
<line x1="1443.2" y1="1286.3" x2="1443.2" y2="1307.2" stroke="#000" stroke-width="5.2"/>
<line x1="1405.4" y1="1296.8" x2="1405.4" y2="1312.4" stroke="#000" stroke-width="5.2"/>
<line x1="1488.8" y1="1286.3" x2="1488.8" y2="1307.2" stroke="#000" stroke-width="5.4"/>
<line x1="1488.8" y1="1296.8" x2="2082.3" y2="1296.8" stroke="#000" stroke-width="5.4"/>
<line x1="1554.4" y1="1296.8" x2="1554.4" y2="1312.4" stroke="#000" stroke-width="5.2"/>
<text x="1552.4" y="1351.6" font-size="40" text-anchor="middle">-<tspan style="font-family:NanumGothic;letter-spacing:-0.05em" stroke="#000" stroke-width="0.7">1</tspan><tspan style="font-family:NanumGothic;letter-spacing:-0.05em" stroke="#000" stroke-width="0.7">1</tspan></text>
<line x1="1685.7" y1="1296.8" x2="1685.7" y2="1312.4" stroke="#000" stroke-width="5.2"/>
<text x="1683.7" y="1351.6" font-size="40" text-anchor="middle">-<tspan style="font-family:NanumGothic;letter-spacing:-0.05em" stroke="#000" stroke-width="0.7">1</tspan>0</text>
<line x1="1817.0" y1="1296.8" x2="1817.0" y2="1312.4" stroke="#000" stroke-width="5.2"/>
<text x="1815.0" y="1351.6" font-size="40" text-anchor="middle">-9</text>
<line x1="1948.3" y1="1296.8" x2="1948.3" y2="1312.4" stroke="#000" stroke-width="5.2"/>
<text x="1946.3" y="1351.6" font-size="40" text-anchor="middle">-8</text>
<line x1="2079.6" y1="1296.8" x2="2079.6" y2="1312.4" stroke="#000" stroke-width="5.2"/>
<text x="2077.6" y="1351.6" font-size="40" text-anchor="middle">-7</text>
<text x="1405.9" y="1355.7" font-size="40" text-anchor="middle">V</text>
<text transform="translate(1114.1,998.5) rotate(-90)" font-size="44" text-anchor="middle" textLength="183" lengthAdjust="spacingAndGlyphs">[cAMP] M</text>
<text x="1724.5" y="1420.8" font-size="44" text-anchor="middle" textLength="230.5" lengthAdjust="spacingAndGlyphs">Log [sCT] M</text>
<path d="M1488.8,1168.9 L1492.4,1168.9 L1496.1,1168.8 L1499.8,1168.7 L1503.5,1168.6 L1507.2,1168.5 L1510.9,1168.4 L1514.6,1168.3 L1518.3,1168.2 L1522.0,1168.1 L1525.7,1168.0 L1529.4,1167.8 L1533.1,1167.7 L1536.8,1167.5 L1540.4,1167.3 L1544.1,1167.2 L1547.8,1167.0 L1551.5,1166.7 L1555.2,1166.5 L1558.9,1166.3 L1562.6,1166.0 L1566.3,1165.8 L1570.0,1165.5 L1573.7,1165.2 L1577.4,1164.8 L1581.1,1164.5 L1584.8,1164.1 L1588.5,1163.7 L1592.1,1163.2 L1595.8,1162.8 L1599.5,1162.3 L1603.2,1161.8 L1606.9,1161.2 L1610.6,1160.6 L1614.3,1160.0 L1618.0,1159.3 L1621.7,1158.6 L1625.4,1157.8 L1629.1,1157.0 L1632.8,1156.1 L1636.5,1155.2 L1640.2,1154.2 L1643.8,1153.2 L1647.5,1152.1 L1651.2,1150.9 L1654.9,1149.7 L1658.6,1148.4 L1662.3,1147.0 L1666.0,1145.5 L1669.7,1144.0 L1673.4,1142.3 L1677.1,1140.6 L1680.8,1138.8 L1684.5,1136.9 L1688.2,1134.9 L1691.9,1132.8 L1695.5,1130.6 L1699.2,1128.3 L1702.9,1125.9 L1706.6,1123.4 L1710.3,1120.7 L1714.0,1118.0 L1717.7,1115.2 L1721.4,1112.2 L1725.1,1109.1 L1728.8,1106.0 L1732.5,1102.7 L1736.2,1099.3 L1739.9,1095.9 L1743.6,1092.3 L1747.2,1088.7 L1750.9,1085.0 L1754.6,1081.2 L1758.3,1077.3 L1762.0,1073.4 L1765.7,1069.4 L1769.4,1065.4 L1773.1,1061.4 L1776.8,1057.3 L1780.5,1053.2 L1784.2,1049.1 L1787.9,1045.0 L1791.6,1040.9 L1795.3,1036.9 L1798.9,1032.9 L1802.6,1028.9 L1806.3,1024.9 L1810.0,1021.1 L1813.7,1017.2 L1817.4,1013.5 L1821.1,1009.8 L1824.8,1006.3 L1828.5,1002.8 L1832.2,999.4 L1835.9,996.1 L1839.6,992.9 L1843.3,989.8 L1847.0,986.8 L1850.6,983.9 L1854.3,981.2 L1858.0,978.5 L1861.7,976.0 L1865.4,973.5 L1869.1,971.2 L1872.8,969.0 L1876.5,966.8 L1880.2,964.8 L1883.9,962.9 L1887.6,961.0 L1891.3,959.3 L1895.0,957.6 L1898.7,956.0 L1902.3,954.6 L1906.0,953.1 L1909.7,951.8 L1913.4,950.6 L1917.1,949.4 L1920.8,948.3 L1924.5,947.2 L1928.2,946.2 L1931.9,945.3 L1935.6,944.4 L1939.3,943.6 L1943.0,942.8 L1946.7,942.0 L1950.4,941.3 L1954.0,940.7 L1957.7,940.1 L1961.4,939.5 L1965.1,939.0 L1968.8,938.5 L1972.5,938.0 L1976.2,937.6 L1979.9,937.2 L1983.6,936.8 L1987.3,936.4 L1991.0,936.1 L1994.7,935.8 L1998.4,935.5 L2002.1,935.2 L2005.7,934.9 L2009.4,934.7 L2013.1,934.4 L2016.8,934.2 L2020.5,934.0 L2024.2,933.8 L2027.9,933.7 L2031.6,933.5 L2035.3,933.4 L2039.0,933.2 L2042.7,933.1 L2046.4,933.0 L2050.1,932.8 L2053.8,932.7 L2057.4,932.6 L2061.1,932.5 L2064.8,932.4 L2068.5,932.4 L2072.2,932.3 L2075.9,932.2 L2079.6,932.1" fill="none" stroke="#571c98" stroke-width="5" stroke-dasharray="15 10.8" stroke-linecap="round"/>
<path d="M1488.8,1165.4 L1492.4,1165.3 L1496.1,1165.2 L1499.8,1165.0 L1503.5,1164.9 L1507.2,1164.8 L1510.9,1164.6 L1514.6,1164.5 L1518.3,1164.3 L1522.0,1164.1 L1525.7,1163.9 L1529.4,1163.7 L1533.1,1163.5 L1536.8,1163.2 L1540.4,1163.0 L1544.1,1162.7 L1547.8,1162.4 L1551.5,1162.1 L1555.2,1161.8 L1558.9,1161.5 L1562.6,1161.1 L1566.3,1160.7 L1570.0,1160.3 L1573.7,1159.8 L1577.4,1159.3 L1581.1,1158.8 L1584.8,1158.3 L1588.5,1157.7 L1592.1,1157.1 L1595.8,1156.4 L1599.5,1155.7 L1603.2,1154.9 L1606.9,1154.2 L1610.6,1153.3 L1614.3,1152.4 L1618.0,1151.5 L1621.7,1150.5 L1625.4,1149.4 L1629.1,1148.2 L1632.8,1147.0 L1636.5,1145.8 L1640.2,1144.4 L1643.8,1143.0 L1647.5,1141.5 L1651.2,1139.9 L1654.9,1138.3 L1658.6,1136.5 L1662.3,1134.6 L1666.0,1132.7 L1669.7,1130.6 L1673.4,1128.5 L1677.1,1126.2 L1680.8,1123.9 L1684.5,1121.4 L1688.2,1118.8 L1691.9,1116.1 L1695.5,1113.3 L1699.2,1110.4 L1702.9,1107.4 L1706.6,1104.3 L1710.3,1101.0 L1714.0,1097.7 L1717.7,1094.2 L1721.4,1090.7 L1725.1,1087.0 L1728.8,1083.3 L1732.5,1079.4 L1736.2,1075.5 L1739.9,1071.5 L1743.6,1067.5 L1747.2,1063.3 L1750.9,1059.2 L1754.6,1054.9 L1758.3,1050.7 L1762.0,1046.4 L1765.7,1042.1 L1769.4,1037.8 L1773.1,1033.5 L1776.8,1029.2 L1780.5,1024.9 L1784.2,1020.7 L1787.9,1016.5 L1791.6,1012.3 L1795.3,1008.2 L1798.9,1004.2 L1802.6,1000.2 L1806.3,996.4 L1810.0,992.6 L1813.7,988.9 L1817.4,985.3 L1821.1,981.8 L1824.8,978.4 L1828.5,975.1 L1832.2,971.9 L1835.9,968.8 L1839.6,965.9 L1843.3,963.0 L1847.0,960.3 L1850.6,957.6 L1854.3,955.1 L1858.0,952.7 L1861.7,950.4 L1865.4,948.2 L1869.1,946.1 L1872.8,944.1 L1876.5,942.2 L1880.2,940.4 L1883.9,938.7 L1887.6,937.1 L1891.3,935.5 L1895.0,934.1 L1898.7,932.7 L1902.3,931.4 L1906.0,930.2 L1909.7,929.0 L1913.4,927.9 L1917.1,926.9 L1920.8,925.9 L1924.5,925.0 L1928.2,924.1 L1931.9,923.3 L1935.6,922.5 L1939.3,921.8 L1943.0,921.1 L1946.7,920.5 L1950.4,919.9 L1954.0,919.3 L1957.7,918.8 L1961.4,918.3 L1965.1,917.8 L1968.8,917.4 L1972.5,917.0 L1976.2,916.6 L1979.9,916.2 L1983.6,915.9 L1987.3,915.6 L1991.0,915.3 L1994.7,915.0 L1998.4,914.7 L2002.1,914.5 L2005.7,914.2 L2009.4,914.0 L2013.1,913.8 L2016.8,913.6 L2020.5,913.5 L2024.2,913.3 L2027.9,913.2 L2031.6,913.0 L2035.3,912.9 L2039.0,912.7 L2042.7,912.6 L2046.4,912.5 L2050.1,912.4 L2053.8,912.3 L2057.4,912.2 L2061.1,912.1 L2064.8,912.1 L2068.5,912.0 L2072.2,911.9 L2075.9,911.9 L2079.6,911.8" fill="none" stroke="#991a52" stroke-width="5" stroke-dasharray="15 10.8" stroke-linecap="round"/>
<path d="M1488.8,1161.7 L1492.4,1161.4 L1496.1,1161.2 L1499.8,1160.9 L1503.5,1160.6 L1507.2,1160.3 L1510.9,1159.9 L1514.6,1159.6 L1518.3,1159.2 L1522.0,1158.8 L1525.7,1158.4 L1529.4,1157.9 L1533.1,1157.4 L1536.8,1156.9 L1540.4,1156.3 L1544.1,1155.8 L1547.8,1155.1 L1551.5,1154.5 L1555.2,1153.8 L1558.9,1153.1 L1562.6,1152.3 L1566.3,1151.5 L1570.0,1150.6 L1573.7,1149.7 L1577.4,1148.7 L1581.1,1147.7 L1584.8,1146.6 L1588.5,1145.4 L1592.1,1144.2 L1595.8,1142.9 L1599.5,1141.6 L1603.2,1140.2 L1606.9,1138.7 L1610.6,1137.1 L1614.3,1135.5 L1618.0,1133.7 L1621.7,1131.9 L1625.4,1130.0 L1629.1,1128.1 L1632.8,1126.0 L1636.5,1123.8 L1640.2,1121.6 L1643.8,1119.3 L1647.5,1116.9 L1651.2,1114.3 L1654.9,1111.7 L1658.6,1109.0 L1662.3,1106.3 L1666.0,1103.4 L1669.7,1100.4 L1673.4,1097.4 L1677.1,1094.3 L1680.8,1091.1 L1684.5,1087.8 L1688.2,1084.5 L1691.9,1081.1 L1695.5,1077.7 L1699.2,1074.2 L1702.9,1070.7 L1706.6,1067.1 L1710.3,1063.5 L1714.0,1059.9 L1717.7,1056.2 L1721.4,1052.6 L1725.1,1048.9 L1728.8,1045.3 L1732.5,1041.7 L1736.2,1038.1 L1739.9,1034.5 L1743.6,1031.0 L1747.2,1027.5 L1750.9,1024.1 L1754.6,1020.7 L1758.3,1017.4 L1762.0,1014.1 L1765.7,1010.9 L1769.4,1007.8 L1773.1,1004.8 L1776.8,1001.9 L1780.5,999.0 L1784.2,996.2 L1787.9,993.5 L1791.6,991.0 L1795.3,988.5 L1798.9,986.0 L1802.6,983.7 L1806.3,981.5 L1810.0,979.4 L1813.7,977.3 L1817.4,975.3 L1821.1,973.5 L1824.8,971.7 L1828.5,970.0 L1832.2,968.3 L1835.9,966.8 L1839.6,965.3 L1843.3,963.9 L1847.0,962.5 L1850.6,961.3 L1854.3,960.1 L1858.0,958.9 L1861.7,957.8 L1865.4,956.8 L1869.1,955.8 L1872.8,954.9 L1876.5,954.1 L1880.2,953.2 L1883.9,952.5 L1887.6,951.7 L1891.3,951.1 L1895.0,950.4 L1898.7,949.8 L1902.3,949.2 L1906.0,948.7 L1909.7,948.2 L1913.4,947.7 L1917.1,947.2 L1920.8,946.8 L1924.5,946.4 L1928.2,946.0 L1931.9,945.7 L1935.6,945.3 L1939.3,945.0 L1943.0,944.7 L1946.7,944.4 L1950.4,944.2 L1954.0,943.9 L1957.7,943.7 L1961.4,943.5 L1965.1,943.3 L1968.8,943.1 L1972.5,942.9 L1976.2,942.7 L1979.9,942.6 L1983.6,942.4 L1987.3,942.3 L1991.0,942.2 L1994.7,942.0 L1998.4,941.9 L2002.1,941.8 L2005.7,941.7 L2009.4,941.6 L2013.1,941.5 L2016.8,941.5 L2020.5,941.4 L2024.2,941.3 L2027.9,941.2 L2031.6,941.2 L2035.3,941.1 L2039.0,941.0 L2042.7,941.0 L2046.4,940.9 L2050.1,940.9 L2053.8,940.9 L2057.4,940.8 L2061.1,940.8 L2064.8,940.7 L2068.5,940.7 L2072.2,940.7 L2075.9,940.6 L2079.6,940.6" fill="none" stroke="#0b559b" stroke-width="5" stroke-dasharray="15 10.8" stroke-linecap="round"/>
<path d="M1488.8,1150.2 L1492.4,1149.3 L1496.1,1148.4 L1499.8,1147.4 L1503.5,1146.4 L1507.2,1145.3 L1510.9,1144.1 L1514.6,1142.9 L1518.3,1141.6 L1522.0,1140.2 L1525.7,1138.8 L1529.4,1137.3 L1533.1,1135.7 L1536.8,1134.0 L1540.4,1132.2 L1544.1,1130.3 L1547.8,1128.3 L1551.5,1126.3 L1555.2,1124.1 L1558.9,1121.8 L1562.6,1119.4 L1566.3,1117.0 L1570.0,1114.4 L1573.7,1111.6 L1577.4,1108.8 L1581.1,1105.9 L1584.8,1102.8 L1588.5,1099.6 L1592.1,1096.3 L1595.8,1092.9 L1599.5,1089.4 L1603.2,1085.8 L1606.9,1082.1 L1610.6,1078.2 L1614.3,1074.3 L1618.0,1070.2 L1621.7,1066.1 L1625.4,1061.9 L1629.1,1057.6 L1632.8,1053.2 L1636.5,1048.7 L1640.2,1044.2 L1643.8,1039.7 L1647.5,1035.1 L1651.2,1030.5 L1654.9,1025.8 L1658.6,1021.2 L1662.3,1016.5 L1666.0,1011.9 L1669.7,1007.3 L1673.4,1002.7 L1677.1,998.1 L1680.8,993.6 L1684.5,989.1 L1688.2,984.7 L1691.9,980.4 L1695.5,976.1 L1699.2,971.9 L1702.9,967.8 L1706.6,963.8 L1710.3,960.0 L1714.0,956.2 L1717.7,952.5 L1721.4,948.9 L1725.1,945.5 L1728.8,942.1 L1732.5,938.9 L1736.2,935.8 L1739.9,932.8 L1743.6,929.9 L1747.2,927.1 L1750.9,924.5 L1754.6,922.0 L1758.3,919.5 L1762.0,917.2 L1765.7,915.0 L1769.4,912.9 L1773.1,910.9 L1776.8,908.9 L1780.5,907.1 L1784.2,905.4 L1787.9,903.7 L1791.6,902.2 L1795.3,900.7 L1798.9,899.3 L1802.6,898.0 L1806.3,896.7 L1810.0,895.5 L1813.7,894.4 L1817.4,893.3 L1821.1,892.3 L1824.8,891.4 L1828.5,890.5 L1832.2,889.6 L1835.9,888.8 L1839.6,888.1 L1843.3,887.4 L1847.0,886.7 L1850.6,886.1 L1854.3,885.5 L1858.0,885.0 L1861.7,884.4 L1865.4,883.9 L1869.1,883.5 L1872.8,883.0 L1876.5,882.6 L1880.2,882.2 L1883.9,881.9 L1887.6,881.5 L1891.3,881.2 L1895.0,880.9 L1898.7,880.6 L1902.3,880.4 L1906.0,880.1 L1909.7,879.9 L1913.4,879.7 L1917.1,879.5 L1920.8,879.3 L1924.5,879.1 L1928.2,878.9 L1931.9,878.8 L1935.6,878.6 L1939.3,878.5 L1943.0,878.4 L1946.7,878.2 L1950.4,878.1 L1954.0,878.0 L1957.7,877.9 L1961.4,877.8 L1965.1,877.7 L1968.8,877.6 L1972.5,877.6 L1976.2,877.5 L1979.9,877.4 L1983.6,877.4 L1987.3,877.3 L1991.0,877.2 L1994.7,877.2 L1998.4,877.1 L2002.1,877.1 L2005.7,877.0 L2009.4,877.0 L2013.1,877.0 L2016.8,876.9 L2020.5,876.9 L2024.2,876.9 L2027.9,876.8 L2031.6,876.8 L2035.3,876.8 L2039.0,876.7 L2042.7,876.7 L2046.4,876.7 L2050.1,876.7 L2053.8,876.7 L2057.4,876.6 L2061.1,876.6 L2064.8,876.6 L2068.5,876.6 L2072.2,876.6 L2075.9,876.6 L2079.6,876.6" fill="none" stroke="#0f9252" stroke-width="5" stroke-dasharray="15 10.8" stroke-linecap="round"/>
<path d="M1488.8,1154.5 L1492.4,1153.9 L1496.1,1153.3 L1499.8,1152.6 L1503.5,1151.9 L1507.2,1151.1 L1510.9,1150.3 L1514.6,1149.5 L1518.3,1148.6 L1522.0,1147.6 L1525.7,1146.6 L1529.4,1145.5 L1533.1,1144.4 L1536.8,1143.2 L1540.4,1141.9 L1544.1,1140.6 L1547.8,1139.2 L1551.5,1137.7 L1555.2,1136.2 L1558.9,1134.5 L1562.6,1132.8 L1566.3,1131.0 L1570.0,1129.1 L1573.7,1127.2 L1577.4,1125.1 L1581.1,1123.0 L1584.8,1120.7 L1588.5,1118.4 L1592.1,1115.9 L1595.8,1113.4 L1599.5,1110.8 L1603.2,1108.0 L1606.9,1105.2 L1610.6,1102.3 L1614.3,1099.3 L1618.0,1096.2 L1621.7,1093.0 L1625.4,1089.7 L1629.1,1086.3 L1632.8,1082.9 L1636.5,1079.4 L1640.2,1075.8 L1643.8,1072.1 L1647.5,1068.4 L1651.2,1064.7 L1654.9,1060.9 L1658.6,1057.1 L1662.3,1053.2 L1666.0,1049.3 L1669.7,1045.5 L1673.4,1041.6 L1677.1,1037.7 L1680.8,1033.8 L1684.5,1030.0 L1688.2,1026.1 L1691.9,1022.3 L1695.5,1018.6 L1699.2,1014.9 L1702.9,1011.3 L1706.6,1007.7 L1710.3,1004.2 L1714.0,1000.8 L1717.7,997.4 L1721.4,994.2 L1725.1,991.0 L1728.8,987.9 L1732.5,984.9 L1736.2,982.0 L1739.9,979.2 L1743.6,976.4 L1747.2,973.8 L1750.9,971.3 L1754.6,968.9 L1758.3,966.6 L1762.0,964.3 L1765.7,962.2 L1769.4,960.1 L1773.1,958.2 L1776.8,956.3 L1780.5,954.5 L1784.2,952.8 L1787.9,951.2 L1791.6,949.7 L1795.3,948.2 L1798.9,946.8 L1802.6,945.5 L1806.3,944.2 L1810.0,943.1 L1813.7,941.9 L1817.4,940.9 L1821.1,939.9 L1824.8,938.9 L1828.5,938.0 L1832.2,937.2 L1835.9,936.4 L1839.6,935.6 L1843.3,934.9 L1847.0,934.2 L1850.6,933.6 L1854.3,933.0 L1858.0,932.4 L1861.7,931.9 L1865.4,931.4 L1869.1,930.9 L1872.8,930.5 L1876.5,930.1 L1880.2,929.7 L1883.9,929.3 L1887.6,929.0 L1891.3,928.6 L1895.0,928.3 L1898.7,928.1 L1902.3,927.8 L1906.0,927.5 L1909.7,927.3 L1913.4,927.1 L1917.1,926.9 L1920.8,926.7 L1924.5,926.5 L1928.2,926.3 L1931.9,926.1 L1935.6,926.0 L1939.3,925.8 L1943.0,925.7 L1946.7,925.6 L1950.4,925.5 L1954.0,925.4 L1957.7,925.3 L1961.4,925.2 L1965.1,925.1 L1968.8,925.0 L1972.5,924.9 L1976.2,924.8 L1979.9,924.7 L1983.6,924.7 L1987.3,924.6 L1991.0,924.6 L1994.7,924.5 L1998.4,924.5 L2002.1,924.4 L2005.7,924.4 L2009.4,924.3 L2013.1,924.3 L2016.8,924.2 L2020.5,924.2 L2024.2,924.2 L2027.9,924.1 L2031.6,924.1 L2035.3,924.1 L2039.0,924.1 L2042.7,924.0 L2046.4,924.0 L2050.1,924.0 L2053.8,924.0 L2057.4,924.0 L2061.1,923.9 L2064.8,923.9 L2068.5,923.9 L2072.2,923.9 L2075.9,923.9 L2079.6,923.9" fill="none" stroke="#000" stroke-width="6.2" stroke-linecap="round"/>
<line x1="1407" y1="1166.8" x2="1443" y2="1166.8" stroke="#000" stroke-width="6.2" stroke-linecap="round"/>
<line x1="1817.0" y1="892.1" x2="1817.0" y2="866.6" stroke="#000" stroke-width="4.6"/>
<line x1="1807.0" y1="866.6" x2="1827.0" y2="866.6" stroke="#000" stroke-width="4.8" stroke-linecap="round"/>
<line x1="1817.0" y1="965.7" x2="1817.0" y2="947.0" stroke="#000" stroke-width="4.6"/>
<line x1="1807.0" y1="947.0" x2="1827.0" y2="947.0" stroke="#000" stroke-width="4.8" stroke-linecap="round"/>
<line x1="1948.3" y1="884.6" x2="1948.3" y2="865.9" stroke="#000" stroke-width="4.6"/>
<line x1="1938.3" y1="865.9" x2="1958.3" y2="865.9" stroke="#000" stroke-width="4.8" stroke-linecap="round"/>
<line x1="1948.3" y1="884.6" x2="1948.3" y2="903.4" stroke="#000" stroke-width="4.6"/>
<line x1="1938.3" y1="903.4" x2="1958.3" y2="903.4" stroke="#000" stroke-width="4.8" stroke-linecap="round"/>
<line x1="1948.3" y1="926.7" x2="1948.3" y2="912.4" stroke="#000" stroke-width="4.6"/>
<line x1="1938.3" y1="912.4" x2="1958.3" y2="912.4" stroke="#000" stroke-width="4.8" stroke-linecap="round"/>
<line x1="2079.6" y1="872.6" x2="2079.6" y2="850.9" stroke="#000" stroke-width="4.6"/>
<line x1="2069.6" y1="850.9" x2="2089.6" y2="850.9" stroke="#000" stroke-width="4.8" stroke-linecap="round"/>
<line x1="1554.4" y1="1129.4" x2="1554.4" y2="1111.4" stroke="#000" stroke-width="4.6"/>
<line x1="1543.9" y1="1111.4" x2="1564.9" y2="1111.4" stroke="#000" stroke-width="4.8" stroke-linecap="round"/>
<circle cx="1405.4" cy="1163.9" r="15.3" fill="#571c98" stroke="#000" stroke-width="4.6"/>
<circle cx="1554.4" cy="1151.9" r="15.3" fill="#571c98" stroke="#000" stroke-width="4.6"/>
<circle cx="1685.7" cy="1109.9" r="15.3" fill="#571c98" stroke="#000" stroke-width="4.6"/>
<circle cx="1817.0" cy="1037.1" r="15.3" fill="#571c98" stroke="#000" stroke-width="4.6"/>
<circle cx="1948.3" cy="946.2" r="15.3" fill="#571c98" stroke="#000" stroke-width="4.6"/>
<circle cx="2079.6" cy="923.7" r="15.3" fill="#571c98" stroke="#000" stroke-width="4.6"/>
<circle cx="1405.4" cy="1163.9" r="15.3" fill="#991a52" stroke="#000" stroke-width="4.6"/>
<circle cx="1554.4" cy="1138.4" r="15.3" fill="#991a52" stroke="#000" stroke-width="4.6"/>
<circle cx="1685.7" cy="1106.1" r="15.3" fill="#991a52" stroke="#000" stroke-width="4.6"/>
<circle cx="1817.0" cy="1001.8" r="15.3" fill="#991a52" stroke="#000" stroke-width="4.6"/>
<circle cx="1948.3" cy="931.2" r="15.3" fill="#991a52" stroke="#000" stroke-width="4.6"/>
<circle cx="2079.6" cy="901.2" r="15.3" fill="#991a52" stroke="#000" stroke-width="4.6"/>
<circle cx="1405.4" cy="1163.9" r="15.3" fill="#0b559b" stroke="#000" stroke-width="4.6"/>
<circle cx="1554.4" cy="1163.9" r="15.3" fill="#0b559b" stroke="#000" stroke-width="4.6"/>
<circle cx="1685.7" cy="1078.3" r="15.3" fill="#0b559b" stroke="#000" stroke-width="4.6"/>
<circle cx="1817.0" cy="972.5" r="15.3" fill="#0b559b" stroke="#000" stroke-width="4.6"/>
<circle cx="1948.3" cy="929.7" r="15.3" fill="#0b559b" stroke="#000" stroke-width="4.6"/>
<circle cx="2079.6" cy="950.7" r="15.3" fill="#0b559b" stroke="#000" stroke-width="4.6"/>
<circle cx="1405.4" cy="1182.0" r="15.3" fill="#0f9252" stroke="#000" stroke-width="4.6"/>
<circle cx="1554.4" cy="1129.4" r="15.3" fill="#0f9252" stroke="#000" stroke-width="4.6"/>
<circle cx="1685.7" cy="989.8" r="15.3" fill="#0f9252" stroke="#000" stroke-width="4.6"/>
<circle cx="1817.0" cy="892.1" r="15.3" fill="#0f9252" stroke="#000" stroke-width="4.6"/>
<circle cx="1948.3" cy="884.6" r="15.3" fill="#0f9252" stroke="#000" stroke-width="4.6"/>
<circle cx="2079.6" cy="872.6" r="15.3" fill="#0f9252" stroke="#000" stroke-width="4.6"/>
<circle cx="1405.4" cy="1152.7" r="15.3" fill="#000000" stroke="#000" stroke-width="4.6"/>
<circle cx="1554.4" cy="1129.4" r="15.3" fill="#000000" stroke="#000" stroke-width="4.6"/>
<circle cx="1685.7" cy="1022.0" r="15.3" fill="#000000" stroke="#000" stroke-width="4.6"/>
<circle cx="1817.0" cy="965.7" r="15.3" fill="#000000" stroke="#000" stroke-width="4.6"/>
<circle cx="1948.3" cy="926.7" r="15.3" fill="#000000" stroke="#000" stroke-width="4.6"/>
<circle cx="2079.6" cy="895.9" r="15.3" fill="#000000" stroke="#000" stroke-width="4.6"/>
<line x1="367" y1="1494.3" x2="416.7" y2="1494.3" stroke="#000" stroke-width="6.2" stroke-linecap="round"/>
<circle cx="392" cy="1494.3" r="12.3" fill="#000" stroke="#000" stroke-width="4"/>
<text x="440.1" y="1508" font-size="36" fill="#000000">WT</text>
<line x1="605.2" y1="1494.3" x2="655.2" y2="1494.3" stroke="#0f9252" stroke-width="3.8" stroke-linecap="round"/>
<circle cx="630.6" cy="1494.3" r="12.3" fill="#0f9252" stroke="#000" stroke-width="4"/>
<text x="677.5999999999999" y="1508" font-size="36" fill="#0f9252">N28D/N73D</text>
<line x1="980.8" y1="1494.3" x2="1030" y2="1494.3" stroke="#0b559b" stroke-width="3.8" stroke-linecap="round"/>
<circle cx="1005.5" cy="1494.3" r="12.3" fill="#0b559b" stroke="#000" stroke-width="4"/>
<text x="1051.8999999999999" y="1508" font-size="36" fill="#0b559b">N<tspan style="font-family:NanumGothic;letter-spacing:-0.05em" stroke="#0b559b" stroke-width="0.6">1</tspan>25D</text>
<line x1="1272.7" y1="1494.3" x2="1322.3" y2="1494.3" stroke="#991a52" stroke-width="3.8" stroke-linecap="round"/>
<circle cx="1297.7" cy="1494.3" r="12.3" fill="#991a52" stroke="#000" stroke-width="4"/>
<text x="1345.2" y="1508" font-size="36" fill="#991a52">N<tspan style="font-family:NanumGothic;letter-spacing:-0.05em" stroke="#991a52" stroke-width="0.6">1</tspan>30D</text>
<line x1="1544.9" y1="1494.3" x2="1594.4" y2="1494.3" stroke="#571c98" stroke-width="3.8" stroke-linecap="round"/>
<circle cx="1569.4" cy="1494.3" r="12.3" fill="#571c98" stroke="#000" stroke-width="4"/>
<text x="1616.3999999999999" y="1508" font-size="36" fill="#571c98">N<tspan style="font-family:NanumGothic;letter-spacing:-0.05em" stroke="#571c98" stroke-width="0.6">1</tspan>25D/N<tspan style="font-family:NanumGothic;letter-spacing:-0.05em" stroke="#571c98" stroke-width="0.6">1</tspan>30D</text>
</svg>
</body></html>
